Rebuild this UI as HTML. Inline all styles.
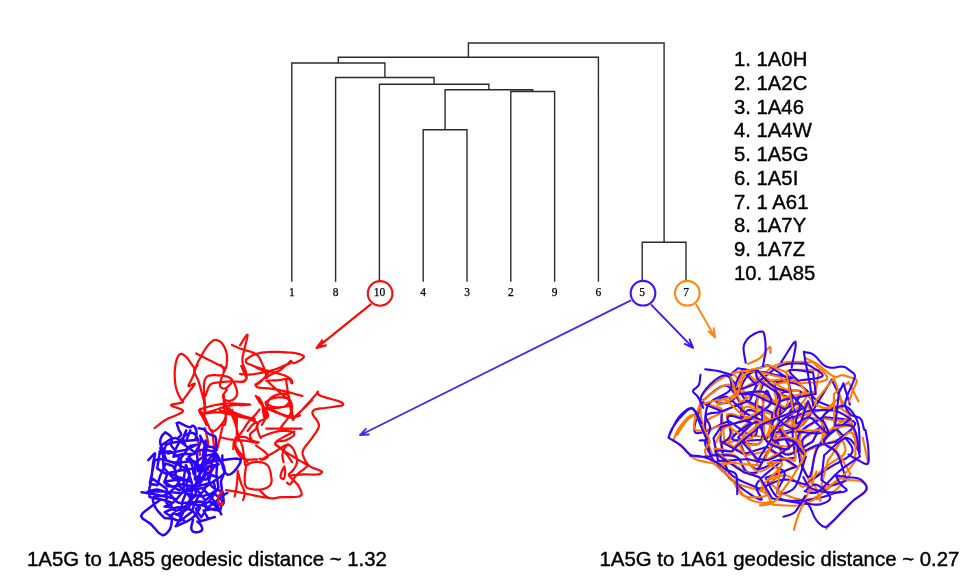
<!DOCTYPE html>
<html><head><meta charset="utf-8"><title>Protein structure dendrogram</title>
<style>
html,body{margin:0;padding:0;background:#fff;}
body{width:979px;height:584px;overflow:hidden;}
svg{display:block;}
.lf{font-family:"Liberation Serif",serif;font-size:11.5px;fill:#000;stroke:#000;stroke-width:0.25px;text-anchor:middle;}
.lg{font-family:"Liberation Sans",sans-serif;font-size:20.3px;fill:#000;stroke:#000;stroke-width:0.4px;}
.cap{font-family:"Liberation Sans",sans-serif;font-size:20.4px;fill:#000;stroke:#000;stroke-width:0.4px;}
</style></head><body>
<svg width="979" height="584" viewBox="0 0 979 584">
<rect width="979" height="584" fill="#fff"/>
<path d="M423.2 129.7V281.0M467.0 129.7V281.0M423.2 129.7H467.0M510.8 91.5V281.0M554.6 91.5V281.0M510.8 91.5H554.6M445.1 89.8V129.7M532.7 89.8V91.5M445.1 89.8H532.7M379.4 84.3V281.0M488.9 84.3V89.8M379.4 84.3H488.9M335.6 77.5V281.0M434.1 77.5V84.3M335.6 77.5H434.1M291.8 63.0V281.0M384.9 63.0V77.5M291.8 63.0H384.9M338.3 57.3V63.0M598.4 57.3V281.0M338.3 57.3H598.4M642.2 242.2V281.0M686.0 242.2V281.0M642.2 242.2H686.0M468.4 43.0V57.3M664.1 43.0V242.2M468.4 43.0H664.1" fill="none" stroke="#2b2b2b" stroke-width="1.4" stroke-linecap="square"/>
<g class="lf"><text x="291.8" y="296.2">1</text><text x="335.6" y="296.2">8</text><text x="379.4" y="296.2">10</text><text x="423.2" y="296.2">4</text><text x="467.0" y="296.2">3</text><text x="510.8" y="296.2">2</text><text x="554.6" y="296.2">9</text><text x="598.4" y="296.2">6</text><text x="642.2" y="296.2">5</text><text x="686.0" y="296.2">7</text></g>
<g fill="none" stroke-width="2.1">
<circle cx="380.1" cy="293.4" r="12.3" stroke="#ff0a0a"/>
<circle cx="643.0" cy="293.2" r="12.3" stroke="#4212ff"/>
<circle cx="687.3" cy="293.2" r="12.3" stroke="#ff8614"/>
</g>
<g fill="none" stroke-linecap="round" stroke-linejoin="round">
<path d="M370.7 304.4L316.6 347.9M322.2 340.4L316.6 347.9L325.8 345.4" stroke="#ff0a0a" stroke-width="2.2"/>
<path d="M630.4 300.6L360 435.2M365.9 428.9L360 435.2L368.9 434.5" stroke="#4a22ff" stroke-width="1.8"/>
<path d="M651.6 305.1L693.1 347.8M689.6 339.4L693.1 347.8L684.7 343.9" stroke="#4212ff" stroke-width="1.9"/>
<path d="M696.3 304.7L715.1 337.5M713.6 328.2L715.1 337.5L708.4 331.2" stroke="#ff8614" stroke-width="1.9"/>
</g>
<path d="M183.1 400.1L184.3 398.4 185.6 396.7 186.9 395.0 188.1 393.3 189.3 391.6 190.6 389.8 192.2 387.8 193.6 385.9 194.5 384.4 194.7 383.6 193.9 383.7 192.5 384.5 190.8 385.4 189.3 386.1 188.5 386.2 188.5 385.5 189.0 384.2 189.9 382.6 190.8 380.9 191.6 379.3 192.4 377.5 193.2 375.7 194.0 373.7 194.6 371.9 194.7 370.1 194.3 368.6 193.7 367.2 192.8 365.8 191.8 364.5 190.8 363.1 189.8 361.6 188.8 360.1 187.7 358.6 186.5 357.3 185.4 356.2 184.5 355.5 183.5 354.8 182.6 354.3 181.6 353.9 180.8 353.9 180.1 354.2 179.4 354.7 178.8 355.3 178.2 356.1 177.7 357.0 177.1 358.4 176.5 360.0 176.1 361.7 175.7 363.6 175.4 365.4 175.1 367.5 174.9 369.6 174.7 371.8 174.7 374.0 174.7 376.2 174.8 378.4 174.9 380.6 175.2 382.8 175.5 385.0 175.9 387.0 176.3 388.7 176.8 390.3 177.3 391.8 177.9 393.3 178.5 394.7 179.1 395.9 179.7 397.1 180.4 398.2 181.0 399.2 181.6 400.1 182.0 400.6 182.4 401.0 182.8 401.3 183.1 401.7 183.1 402.0 181.7 402.7 178.7 403.3 175.2 403.8 172.3 404.4 171.0 405.2 172.2 406.2 175.2 407.2 178.8 408.4 181.8 409.6 183.1 410.9 181.8 412.6 178.3 414.3 173.8 416.2 169.2 418.1 165.4 420.0 163.0 421.6 160.8 423.2 158.8 424.8 156.7 426.4 154.6 428.0 M196.2 353.5L198.0 354.4 199.7 355.3 201.4 356.2 203.2 357.1 205.0 358.0 207.0 359.0 209.0 360.0 211.0 361.0 213.0 362.0 215.0 363.0 216.8 363.9 218.6 364.8 220.4 365.7 222.2 366.6 224.0 367.5 M194.7 372.4L194.8 371.6 195.0 370.9 195.1 370.1 195.3 369.3 195.5 368.5 195.9 367.4 196.3 366.1 196.8 364.9 197.3 363.6 197.8 362.4 198.3 361.3 198.9 360.2 199.5 359.2 200.2 358.1 200.8 357.0 201.5 355.7 202.3 354.2 203.0 352.8 203.8 351.4 204.7 350.0 205.7 348.5 206.7 347.0 207.8 345.6 209.0 344.3 210.1 343.1 211.0 342.3 211.9 341.5 212.8 340.8 213.7 340.3 214.7 340.0 215.8 340.0 216.9 340.1 218.0 340.5 219.1 341.0 220.1 341.6 221.2 342.5 222.2 343.6 223.1 344.9 224.0 346.3 224.7 347.7 225.4 349.3 226.0 350.9 226.4 352.6 226.8 354.4 227.0 356.2 227.1 358.2 227.1 360.3 226.9 362.4 226.7 364.4 226.3 366.2 225.9 367.5 225.5 368.7 225.0 369.8 224.5 370.9 224.0 372.0 M197.7 365.0L196.9 366.0 196.0 366.9 195.1 367.9 194.5 368.9 194.1 370.1 194.3 371.9 195.0 373.8 196.1 375.9 197.3 378.2 198.2 380.4 199.1 383.2 200.0 386.1 200.8 389.1 201.6 392.1 202.3 394.8 202.8 396.8 203.3 398.6 203.8 400.4 204.1 402.2 204.4 404.0 204.5 405.8 204.5 407.7 204.5 409.6 204.4 411.4 204.4 413.3 M205.4 412.2L205.0 405.6 204.5 398.6 204.0 391.8 203.9 385.9 204.4 381.4 204.8 380.0 205.3 378.8 205.9 377.8 206.6 377.0 207.5 376.3 209.1 375.6 211.1 375.3 213.3 375.2 215.5 375.2 217.7 375.3 220.1 375.4 222.6 375.7 225.0 376.1 227.2 376.6 229.0 377.3 229.8 377.8 230.5 378.4 231.0 379.1 231.5 379.8 232.1 380.4 M205.4 395.8L206.3 393.4 207.2 390.8 208.1 388.3 209.2 386.1 210.5 384.5 211.7 383.7 213.0 383.2 214.5 382.9 216.0 382.7 217.7 382.5 220.3 382.1 223.1 381.9 226.2 381.7 229.2 381.5 232.1 381.4 234.8 381.5 237.7 381.7 240.4 382.0 242.7 381.9 244.4 381.4 245.0 380.8 245.5 380.0 245.8 379.1 246.0 378.2 246.0 377.3 245.8 376.1 245.3 374.9 244.7 373.7 244.0 372.4 243.4 371.2 243.0 370.1 242.5 369.1 242.1 368.1 241.7 367.0 241.3 366.0 M220.8 365.0L221.5 366.0 222.3 366.9 223.0 367.9 223.6 368.9 223.9 370.1 223.8 371.9 223.1 374.1 222.2 376.3 221.4 378.4 220.8 380.4 220.5 381.8 220.2 383.2 220.0 384.5 220.0 385.7 220.3 386.6 220.9 387.3 221.8 387.9 222.8 388.3 223.9 388.6 224.9 388.6 226.1 388.1 227.3 387.2 228.6 385.9 229.9 384.7 231.1 383.5 M231.1 378.3L232.0 379.7 232.8 381.1 233.7 382.6 234.5 384.0 235.2 385.5 235.8 387.1 236.4 388.8 236.9 390.5 237.2 392.2 237.2 393.7 236.9 394.9 236.4 396.0 235.7 397.1 234.9 398.1 234.1 398.9 233.2 399.5 232.2 400.1 231.1 400.5 230.1 400.8 229.0 400.9 227.9 400.8 226.8 400.5 225.6 400.1 224.6 399.5 223.9 398.9 223.5 398.4 223.2 397.8 223.0 397.2 222.9 396.5 222.9 395.8 223.3 394.7 224.1 393.5 225.0 392.2 226.1 390.9 227.0 389.6 M200.3 409.1L202.3 408.5 204.3 407.9 206.3 407.2 208.3 406.7 210.5 406.1 213.3 405.5 216.3 404.8 219.3 404.3 222.5 403.8 225.9 403.5 230.3 403.4 235.0 403.6 239.8 403.9 244.7 404.2 249.5 404.5 M204.4 413.3L206.5 412.6 208.6 412.0 210.7 411.3 212.8 410.7 215.0 410.0 217.5 409.2 220.1 408.3 222.8 407.4 225.4 406.6 228.0 406.0 230.4 405.6 232.8 405.2 235.2 405.0 237.6 404.8 240.0 404.5 M200.3 409.1L200.1 409.3 199.8 409.5 199.5 409.7 199.3 409.9 199.2 410.2 199.4 411.4 200.2 413.0 201.2 414.8 202.4 416.7 203.3 418.4 204.0 419.8 204.6 421.1 205.2 422.4 205.8 423.7 206.4 425.0 M223.9 395.8L223.9 397.8 223.8 399.9 223.8 401.9 223.8 404.0 223.9 406.1 224.2 408.6 224.7 411.1 225.3 413.7 225.7 416.2 225.9 418.4 225.8 419.8 225.6 421.2 225.4 422.5 225.1 423.7 224.9 425.0 M229.0 408.1L230.1 409.7 231.2 411.3 232.3 413.0 233.3 414.6 234.1 416.3 234.7 418.0 235.1 419.7 235.5 421.5 235.8 423.2 236.2 425.0 M225.9 409.1L230.1 410.8 234.5 412.5 238.8 414.2 242.9 415.8 246.5 417.4 248.8 418.5 250.9 419.5 252.8 420.5 254.7 421.5 256.7 422.5 M255.7 395.8L256.5 396.4 257.4 396.9 258.2 397.5 259.0 398.1 259.8 398.9 260.8 400.4 261.7 402.2 262.5 404.2 263.2 406.2 263.9 408.1 264.5 409.8 265.1 411.4 265.7 413.0 266.0 414.7 266.0 416.3 265.6 418.0 264.8 419.8 263.9 421.5 262.8 423.3 261.9 425.0 M255.7 385.5L256.9 384.5 258.2 383.6 259.4 382.6 260.6 381.6 261.9 380.4 263.5 378.8 265.1 377.0 266.7 375.0 268.4 373.1 270.0 371.2 M251.6 365.0L253.7 366.1 255.8 367.2 257.8 368.4 259.9 369.3 261.9 370.1 263.6 370.5 265.2 370.8 266.8 370.9 268.4 371.0 270.0 371.2 M240.0 345.4L241.6 342.9 243.4 339.9 245.2 337.2 246.6 335.2 247.4 334.6 247.5 335.8 247.0 338.4 246.2 341.8 245.3 345.4 244.6 348.5 244.0 351.0 243.4 353.5 242.8 355.9 242.4 358.4 242.3 360.8 242.8 363.3 243.6 365.9 244.7 368.5 245.6 370.9 246.2 373.1 246.4 374.5 246.6 375.9 246.7 377.2 246.6 378.3 246.2 379.3 245.4 380.1 244.2 380.7 242.8 381.2 241.3 381.6 240.0 382.1 M246.2 359.3L247.7 358.3 249.1 357.4 250.6 356.4 252.2 355.5 253.9 354.7 256.3 353.9 259.0 353.2 261.8 352.7 264.7 352.3 267.7 352.0 271.3 351.8 275.1 351.8 278.9 351.9 282.7 352.1 286.2 352.3 288.9 352.5 291.6 352.7 294.2 353.0 296.5 353.4 298.6 353.9 300.0 354.3 301.4 354.8 302.6 355.3 303.5 355.9 303.9 356.5 303.8 357.0 303.5 357.6 303.0 358.2 302.3 358.7 301.6 359.3 300.2 360.3 298.4 361.3 296.4 362.3 294.6 363.0 293.2 363.1 292.6 362.8 292.0 362.2 291.5 361.5 291.1 361.0 290.8 360.8 290.6 361.0 290.5 361.5 290.5 362.0 290.4 362.6 290.1 363.1 289.4 363.7 288.4 364.1 287.2 364.5 286.0 364.9 284.7 365.4 283.0 366.1 281.2 367.0 279.3 367.8 277.3 368.6 275.4 369.3 273.6 369.9 271.8 370.3 269.9 370.8 268.1 371.2 266.2 371.6 264.1 372.1 261.9 372.6 259.7 373.1 257.5 373.5 255.4 373.9 253.5 374.2 251.6 374.4 249.7 374.6 247.9 374.7 246.2 374.7 244.9 374.6 243.6 374.5 242.4 374.3 241.2 374.1 240.0 373.9 M246.2 359.3L246.1 359.9 246.0 360.6 246.0 361.2 246.0 361.8 246.2 362.4 246.9 363.1 248.0 363.7 249.4 364.3 250.8 364.8 252.3 365.4 254.3 366.2 256.4 367.0 258.6 367.8 260.9 368.6 263.1 369.3 265.2 370.0 267.4 370.6 269.5 371.2 271.7 371.8 273.9 372.4 276.4 373.1 279.0 373.8 281.6 374.5 284.1 375.3 286.2 376.2 287.5 376.9 288.8 377.7 289.9 378.4 290.9 379.3 291.6 380.1 291.9 380.7 292.1 381.3 292.2 381.9 292.3 382.6 292.4 383.2 M232.0 345.0L233.6 345.7 235.1 346.4 236.6 347.1 238.2 347.8 240.0 348.5 243.2 349.6 246.9 350.6 250.7 351.8 254.2 353.1 256.9 354.7 258.2 356.1 259.3 357.6 260.1 359.2 260.9 360.8 261.6 362.4 262.3 363.9 263.0 365.4 263.6 367.0 264.2 368.5 264.7 370.1 265.2 371.7 265.7 373.2 266.1 374.8 266.6 376.4 267.0 378.0 M255.4 384.7L255.7 385.2 255.9 385.7 256.1 386.2 256.4 386.6 256.9 387.0 258.7 387.6 261.4 387.9 264.5 388.1 267.7 388.3 270.8 388.6 273.8 389.1 276.9 389.6 280.0 390.2 283.1 390.9 286.2 391.6 289.4 392.4 292.7 393.3 295.9 394.2 299.2 395.1 302.4 396.0 M267.0 380.8L268.7 382.4 270.3 383.9 272.0 385.5 273.7 387.1 275.4 388.6 277.3 390.2 279.2 391.8 281.2 393.4 283.1 394.9 284.7 396.3 285.8 397.2 286.8 398.1 287.8 398.9 288.6 399.8 289.3 400.9 289.9 402.5 290.2 404.3 290.4 406.2 290.5 408.2 290.8 410.1 291.2 412.1 291.7 414.0 292.2 416.0 292.7 418.0 293.2 420.0 M266.2 380.8L268.7 380.7 271.2 380.5 273.6 380.4 276.1 380.3 278.5 380.1 280.8 379.8 283.3 379.4 285.6 379.0 287.7 378.9 289.3 379.3 290.0 379.9 290.5 380.6 290.9 381.5 291.2 382.4 291.6 383.2 M255.4 384.7L256.9 383.6 258.5 382.5 260.0 381.4 261.5 380.3 263.1 379.3 264.6 378.3 266.1 377.4 267.6 376.5 269.2 375.6 270.8 374.7 272.6 373.8 274.5 373.0 276.3 372.1 278.2 371.2 280.1 370.1 282.3 368.5 284.4 366.7 286.5 364.7 288.7 362.7 290.8 360.8 M266.2 405.5L267.1 403.9 267.8 402.2 268.7 400.6 269.6 399.1 270.8 397.8 272.4 396.7 274.2 395.7 276.2 395.0 278.2 394.4 280.1 394.0 281.8 393.8 283.5 393.7 285.2 393.8 286.7 394.1 287.8 394.7 288.5 395.6 289.0 396.9 289.3 398.3 289.4 399.7 289.3 400.9 289.0 401.9 288.5 402.9 287.9 403.9 287.1 404.8 286.2 405.5 285.0 406.2 283.5 406.8 281.9 407.2 280.2 407.5 278.5 407.8 276.6 408.0 274.6 408.2 272.6 408.2 270.8 408.1 269.3 407.8 268.5 407.5 267.9 407.0 267.3 406.5 266.8 406.0 266.2 405.5 M286.2 380.8L286.8 384.8 287.4 388.9 288.0 393.0 288.6 397.0 289.3 400.9 290.0 404.5 290.8 408.1 291.6 411.6 292.4 415.1 293.2 418.6 M293.9 418.6L296.1 416.3 298.2 414.0 300.3 411.7 302.5 409.4 304.7 407.0 307.4 404.1 310.3 400.9 313.1 397.8 315.5 395.1 317.0 393.2 317.3 392.7 317.4 392.3 317.6 391.9 317.7 391.7 317.8 391.6 317.9 391.8 317.9 392.4 318.0 393.2 318.2 394.0 318.6 394.7 321.7 396.3 327.0 397.9 333.0 399.5 338.4 401.0 341.7 402.4 342.3 402.9 342.7 403.4 343.1 403.8 343.2 404.3 343.2 404.7 342.3 405.4 340.3 405.8 337.8 406.2 335.0 406.6 332.4 407.0 328.7 407.5 324.4 408.0 320.1 408.4 316.4 409.1 314.0 410.1 313.4 410.6 312.9 411.2 312.6 411.8 312.4 412.4 312.4 413.2 313.1 415.1 314.7 417.4 316.7 420.0 318.3 422.7 319.0 425.2 318.5 427.7 317.3 430.2 315.7 432.8 313.8 435.3 312.1 437.8 310.2 440.4 308.1 443.1 306.0 445.7 304.2 448.2 303.1 450.3 302.8 451.3 302.6 452.1 302.6 453.0 302.6 453.8 302.8 454.8 303.4 456.8 304.4 459.0 305.6 461.4 307.2 463.7 308.9 465.6 311.5 467.3 314.9 468.6 318.2 469.8 320.9 470.9 322.0 471.9 321.9 472.4 321.5 472.9 320.9 473.3 320.1 473.8 319.3 474.1 317.0 474.5 313.8 474.6 310.2 474.5 306.5 474.4 303.1 474.4 300.2 474.6 297.3 474.8 294.5 475.0 291.6 475.3 288.8 475.5 M240.0 405.5L250.0 404.7 M256.2 396.3L257.3 397.5 258.5 398.6 259.7 399.8 260.8 401.0 261.6 402.4 262.2 404.1 262.5 405.9 262.7 407.9 262.9 409.8 263.1 411.7 263.4 413.4 263.7 415.1 264.1 416.7 264.4 418.3 264.7 420.0 M200.0 410.8L200.6 411.4 201.2 411.9 201.9 412.5 202.5 413.1 203.1 413.9 204.0 415.5 204.9 417.5 205.8 419.7 206.8 421.9 207.7 423.9 208.5 425.7 209.3 427.7 210.2 429.5 211.1 430.9 212.3 431.6 214.2 431.1 216.5 429.5 218.9 427.2 221.2 424.6 223.1 422.3 224.3 420.3 225.1 418.0 225.9 415.8 226.7 413.8 227.7 412.3 228.6 411.6 229.5 411.1 230.5 410.7 231.4 410.4 232.4 410.0 M203.1 413.9L205.6 413.5 208.1 413.1 210.6 412.8 213.0 412.5 215.4 412.3 217.5 412.3 219.4 412.4 221.4 412.5 223.4 412.8 225.4 413.1 227.7 413.6 229.9 414.2 232.2 414.9 234.6 415.6 237.0 416.2 239.8 416.8 242.7 417.3 245.6 417.9 248.4 418.5 250.8 419.2 252.2 419.8 253.5 420.4 254.7 421.0 255.8 421.7 257.0 422.3 M223.1 424.6L217.0 450.0 M237.0 416.2L236.9 420.4 236.8 424.9 236.7 429.2 236.7 433.1 237.0 436.2 237.2 437.3 237.5 438.3 237.9 439.1 238.2 439.9 238.5 440.8 M235.4 437.7L237.3 437.5 239.2 437.2 241.1 437.0 243.0 436.8 244.7 437.0 246.0 437.4 247.2 438.0 248.4 438.7 249.5 439.4 250.8 440.0 252.3 440.5 253.8 441.0 255.4 441.5 257.0 441.9 258.6 442.4 M235.4 440.8L235.5 442.7 235.5 444.6 235.6 446.5 235.8 448.3 236.2 450.0 236.8 451.4 237.5 452.8 238.3 454.0 239.2 455.2 240.1 456.2 240.9 457.0 241.7 457.7 242.6 458.3 243.6 458.9 244.7 459.3 246.7 459.7 249.2 459.7 251.8 459.6 254.4 459.4 257.0 459.3 M246.2 465.5L247.4 464.8 248.6 464.1 249.8 463.4 251.1 462.8 252.4 462.4 254.1 462.1 256.0 461.9 258.0 461.9 259.9 462.1 261.6 462.4 263.0 462.8 264.4 463.2 265.6 463.8 266.8 464.6 267.8 465.5 268.8 467.0 269.5 468.7 270.1 470.7 270.6 472.7 270.9 474.7 271.2 476.6 271.5 478.6 271.6 480.6 271.4 482.4 270.9 484.0 270.1 485.2 269.0 486.3 267.7 487.2 266.2 488.0 264.7 488.6 262.7 489.1 260.6 489.5 258.3 489.6 256.0 489.6 253.9 489.4 252.2 489.2 250.4 488.9 248.8 488.5 247.3 487.9 246.2 487.0 245.4 485.6 245.0 483.9 244.8 481.9 244.7 479.8 244.7 477.8 244.8 475.5 245.1 473.0 245.4 470.5 245.8 468.0 246.2 465.5 M237.7 470.9L238.3 473.2 238.9 475.5 239.5 477.8 240.1 480.1 240.8 482.4 241.6 484.6 242.6 486.9 243.6 489.1 244.3 491.2 244.7 493.2 244.6 494.7 244.4 496.0 243.9 497.3 243.5 498.7 243.1 500.0 M237.7 470.9L237.6 473.5 237.5 476.2 237.4 478.8 237.2 481.4 237.0 484.0 236.6 486.5 236.2 489.0 235.7 491.4 235.2 493.8 234.7 496.3 M266.3 428.7L301.5 428.7 M312.1 400.0L309.9 402.2 307.7 404.4 305.5 406.7 303.4 408.8 301.3 410.8 299.6 412.3 298.0 413.8 296.5 415.2 294.9 416.6 293.3 418.0 M288.8 400.0L289.4 401.8 289.9 403.6 290.5 405.4 291.0 407.2 291.5 409.0 291.9 410.8 292.3 412.6 292.6 414.4 293.0 416.2 293.3 418.0 M267.2 407.2L269.3 408.3 271.4 409.4 273.5 410.5 275.7 411.6 278.0 412.6 280.7 413.7 283.6 414.8 286.5 415.9 289.5 416.9 292.4 418.0 M294.2 431.5L290.7 433.3 287.0 435.3 283.5 437.1 280.3 438.9 278.0 440.4 277.2 441.0 276.5 441.5 275.9 442.0 275.4 442.5 275.3 443.1 275.6 443.9 276.3 444.8 277.3 445.7 278.5 446.6 279.8 447.6 282.4 449.6 285.6 451.8 289.1 454.1 292.7 456.3 296.0 458.4 298.6 460.0 301.1 461.4 303.6 462.8 306.0 464.2 308.5 465.6 M261.8 459.3L264.3 457.9 266.8 456.4 269.4 455.0 271.9 453.5 274.4 452.1 277.0 450.5 279.7 448.6 282.4 446.8 284.9 445.5 287.0 444.9 288.0 444.9 289.0 445.1 289.9 445.5 290.7 446.0 291.5 446.7 292.6 448.0 293.6 449.8 294.6 451.8 295.4 453.9 296.0 455.7 296.4 457.0 296.7 458.3 297.0 459.5 297.1 460.7 297.0 462.0 296.7 463.4 296.2 464.9 295.6 466.3 294.8 467.7 294.0 469.0 293.1 470.1 292.1 471.1 291.1 472.1 290.0 473.0 289.0 474.0 M284.3 466.5L284.5 467.6 284.8 468.6 285.0 469.7 285.2 470.8 285.2 471.9 285.1 473.5 284.8 475.3 284.5 477.0 284.0 478.4 283.4 479.1 282.9 479.1 282.3 478.9 281.6 478.4 281.1 477.9 280.7 477.3 280.5 476.4 280.6 475.4 280.9 474.2 281.2 473.0 281.6 471.9 282.0 470.8 282.6 469.7 283.1 468.6 283.7 467.6 284.3 466.5 M287.0 482.7L287.5 483.1 288.1 483.6 288.6 484.1 289.1 484.4 289.7 484.5 290.8 483.7 292.0 482.0 293.2 479.7 294.6 477.4 296.0 475.5 297.7 473.9 299.6 472.4 301.5 470.9 303.3 469.6 304.9 468.3 305.7 467.5 306.5 466.8 307.1 466.1 307.8 465.4 308.5 464.7 M260.0 490.8L261.8 492.4 263.5 494.1 265.2 495.7 267.0 497.1 269.0 498.0 271.3 498.4 273.7 498.3 276.2 497.9 278.8 497.4 281.6 497.1 285.7 497.0 290.5 497.1 295.2 497.0 299.1 496.5 301.3 495.3 301.7 493.9 301.4 492.1 300.6 490.1 299.7 488.1 298.7 486.3 297.7 484.7 296.4 483.2 295.0 481.7 293.6 480.3 292.4 479.1 291.6 478.3 290.9 477.6 290.2 476.9 289.5 476.2 288.8 475.5 M226.0 490.0L229.4 490.6 232.8 491.2 236.1 491.7 239.5 492.4 243.0 493.0 246.9 493.8 250.9 494.7 254.9 495.6 258.7 496.4 262.0 497.0 263.8 497.3 265.4 497.5 267.0 497.7 268.5 497.8 270.0 498.0 M223.6 395.0L223.8 396.5 224.0 397.9 224.2 399.4 224.5 400.8 224.8 402.2 225.2 403.4 225.6 404.6 226.1 405.8 226.6 407.0 227.2 408.2 228.0 409.6 229.0 411.0 230.1 412.4 231.1 413.9 232.0 415.4 232.8 417.2 233.6 419.1 234.3 421.1 235.0 423.0 235.6 425.0 236.2 426.9 236.7 428.9 237.2 430.9 237.6 432.8 238.0 434.6 238.3 435.9 238.5 437.1 238.7 438.3 239.0 439.4 239.2 440.6 M220.0 410.6L222.4 411.1 224.7 411.5 227.0 411.9 229.5 412.4 232.0 413.0 235.6 413.9 239.5 414.9 243.5 416.0 247.1 417.0 250.0 417.8 251.2 418.1 252.1 418.3 253.0 418.6 253.9 418.8 254.8 419.0 M259.6 409.4L258.7 410.6 257.7 411.8 256.8 413.0 255.8 414.2 254.8 415.4 253.6 416.6 252.4 417.8 251.2 418.9 249.9 420.1 248.8 421.4 247.8 422.8 246.8 424.2 245.9 425.6 245.0 427.1 244.0 428.6 242.8 430.3 241.6 432.1 240.4 433.9 239.1 435.6 238.0 437.0 237.2 437.8 236.4 438.5 235.6 439.1 235.0 439.7 234.4 440.6 233.9 442.0 233.6 443.7 233.5 445.4 233.4 447.3 233.2 449.0 M256.0 396.2L256.7 397.4 257.4 398.6 258.1 399.8 258.8 401.0 259.6 402.2 260.7 403.6 262.0 405.0 263.4 406.4 264.6 407.9 265.6 409.4 266.4 410.9 267.2 412.5 267.8 414.0 268.1 415.4 268.0 416.6 267.6 417.3 266.9 417.8 266.1 418.2 265.2 418.6 264.4 419.0 263.5 419.5 262.4 419.9 261.4 420.3 260.4 420.8 259.6 421.4 258.9 422.2 258.3 423.1 257.8 424.0 257.4 425.1 257.2 426.2 257.3 428.0 257.7 430.1 258.3 432.3 259.0 434.2 259.6 435.8 259.8 436.4 260.1 436.9 260.3 437.3 260.6 437.7 260.8 438.2 M265.6 402.2L266.8 401.4 267.9 400.6 269.0 399.9 270.2 399.2 271.6 398.6 273.6 398.1 275.8 397.6 278.1 397.4 280.3 397.3 282.4 397.4 284.0 397.6 285.6 397.9 287.1 398.3 288.5 399.0 289.6 399.8 290.5 400.9 291.1 402.3 291.6 403.8 291.9 405.4 292.0 407.0 291.9 408.6 291.6 410.3 291.0 412.1 290.4 413.8 289.6 415.4 288.6 417.2 287.4 418.9 286.1 420.6 284.8 422.3 283.6 423.8 282.8 424.8 282.1 425.8 281.4 426.7 280.7 427.7 280.0 428.6 M265.6 403.4L267.3 404.2 268.9 405.0 270.6 405.8 272.3 406.5 274.0 407.0 275.7 407.2 277.4 407.3 279.1 407.3 280.8 407.1 282.4 407.0 283.9 406.8 285.3 406.6 286.7 406.3 288.2 406.1 289.6 405.8 M265.6 408.2L268.0 409.2 270.3 410.1 272.7 411.1 275.1 412.1 277.6 413.0 280.5 414.1 283.5 415.4 286.5 416.6 289.4 417.4 292.0 417.8 293.7 417.6 295.4 417.2 296.9 416.6 298.4 416.0 300.0 415.4 M260.8 437.0L262.7 436.3 264.6 435.5 266.5 434.8 268.5 434.0 270.4 433.4 272.3 432.8 274.1 432.2 276.0 431.7 278.0 431.3 280.0 431.0 282.7 430.9 285.8 430.9 288.9 431.1 291.5 431.5 293.2 432.2 293.7 432.6 294.1 433.1 294.3 433.6 294.5 434.1 294.4 434.6 293.5 435.8 291.7 437.1 289.4 438.5 287.0 439.7 284.8 440.6 283.0 441.0 281.1 441.2 279.2 441.2 277.6 441.4 276.4 441.8 275.9 442.2 275.6 442.7 275.3 443.2 275.2 443.7 275.2 444.2 275.6 444.9 276.5 445.6 277.7 446.2 278.9 447.0 280.0 447.8 281.4 449.0 282.9 450.4 284.4 451.9 285.9 453.5 287.2 455.0 288.3 456.4 289.2 457.8 290.2 459.3 291.1 460.8 292.0 462.2 M288.1 444.2L287.4 444.9 286.7 445.5 286.0 446.2 285.4 447.0 284.8 447.8 284.1 449.0 283.5 450.5 283.0 452.0 282.6 453.5 282.4 455.0 282.4 456.4 282.6 457.9 283.0 459.3 283.3 460.8 283.6 462.2 M220.0 437.0L221.9 437.5 223.7 438.0 225.6 438.5 227.5 439.0 229.6 439.4 232.3 439.7 235.2 440.0 238.1 440.1 241.1 440.3 244.0 440.6 246.7 441.0 249.3 441.5 252.0 442.0 254.6 442.5 257.2 443.0 M234.4 443.0L235.1 444.4 235.7 445.9 236.4 447.4 237.2 448.8 238.0 450.2 239.1 451.7 240.3 453.2 241.6 454.6 242.9 456.1 244.0 457.4 244.8 458.4 245.5 459.4 246.2 460.3 246.9 461.3 247.6 462.2 M240.4 440.6L240.9 442.0 241.4 443.4 241.9 444.8 242.4 446.3 242.8 447.8 243.1 449.6 243.4 451.6 243.6 453.6 243.8 455.5 244.0 457.4 244.2 459.0 244.5 460.5 244.7 462.0 245.0 463.5 245.2 465.0 M247.6 431.0L248.8 429.5 250.0 427.8 251.2 426.2 252.4 424.8 253.6 423.8 254.4 423.3 255.2 422.9 256.1 422.6 256.7 422.5 257.2 422.6 257.4 423.3 257.4 424.4 257.0 425.9 256.6 427.3 256.0 428.6 255.0 429.9 253.5 431.0 252.0 432.2 250.7 433.4 250.0 434.6 250.0 435.8 250.3 437.1 250.9 438.4 251.6 439.6 252.4 440.6 253.2 441.3 254.1 441.8 255.2 442.2 256.2 442.6 257.2 443.0 M256.0 445.4L258.0 446.9 260.2 448.4 262.3 449.8 264.1 451.3 265.6 452.6 266.3 453.4 267.0 454.1 267.6 454.8 268.0 455.5 268.0 456.2 267.4 457.1 266.2 458.0 264.7 458.9 263.2 459.5 262.0 459.8 261.5 459.7 261.0 459.5 260.5 459.2 260.1 458.9 259.6 458.6" fill="none" stroke-linejoin="round" stroke-linecap="round" stroke="#ff0808" stroke-width="2.2"/>
<path d="M205.0 428.0L205.7 431.4 206.6 434.9 207.4 438.3 207.9 441.7 208.0 445.0 207.3 448.1 205.9 451.2 204.4 454.2 203.3 457.2 203.0 460.0 203.7 462.5 205.0 464.9 206.7 467.3 208.4 469.6 210.0 472.0 M212.0 430.0L212.5 434.0 213.1 438.1 213.6 442.1 213.9 446.1 214.0 450.0 213.7 453.7 213.1 457.3 212.4 460.8 211.7 464.4 211.0 468.0 M198.0 440.0L200.0 455.0" fill="none" stroke-linejoin="round" stroke-linecap="round" stroke="#ff0808" stroke-width="2.2"/>
<path d="M160.7 445.6L165.1 442.7 170.4 439.3 175.3 437.9 178.1 439.1 180.7 441.5 183.5 444.1 188.0 447.4 193.0 450.9 197.1 453.8 197.4 459.2 197.8 465.7 198.1 471.1 200.5 466.8 203.2 461.5 205.5 457.2 205.7 451.1 205.9 443.9 205.7 440.4 204.9 443.6 203.7 450.5 202.8 456.2 206.3 459.5 210.7 463.3 214.2 466.6 211.8 470.6 208.9 475.5 206.5 479.6 202.9 479.5 198.5 479.5 194.9 479.5 195.2 473.8 195.5 467.0 194.1 462.2 189.9 461.2 184.1 462.0 178.6 462.4 174.0 462.2 169.5 461.7 166.3 460.0 164.6 455.6 164.3 449.8 165.8 445.2 170.3 442.9 176.6 441.9 181.9 441.2 187.0 440.8 193.2 440.3 198.3 439.9 197.0 437.5 195.3 434.7 193.3 432.9 190.7 432.8 187.8 433.8 185.1 435.5 181.5 439.3 178.1 444.3 175.6 449.0 174.6 451.8 174.0 454.6 173.5 456.8 176.4 455.9 179.8 454.8 182.7 454.0 186.3 454.0 190.7 453.9 194.4 453.9 196.7 450.0 199.4 445.2 201.0 441.0 201.0 439.0 200.6 437.2 200.2 435.8 201.7 438.9 203.5 442.6 205.0 445.7 207.8 446.3 211.1 447.0 213.8 447.6 214.9 452.4 216.2 458.1 217.3 462.9 217.0 466.2 216.7 470.2 216.4 473.5 217.0 477.9 217.8 483.2 218.4 487.7 215.5 492.0 212.0 497.2 209.1 501.5 212.0 503.5 215.5 506.0 218.4 508.1 213.8 508.8 208.2 509.7 203.6 510.5 205.0 513.1 206.8 516.2 208.2 518.8 210.2 518.2 212.7 517.6 214.8 517.0 210.3 518.4 204.9 520.0 200.5 521.3 198.0 517.9 194.9 513.7 192.3 510.3 188.1 509.1 182.9 507.8 177.9 507.3 173.1 508.5 168.5 510.5 164.7 512.2 167.6 514.2 170.9 516.5 172.4 518.2 170.6 518.5 167.3 518.3 164.6 518.0 161.6 515.1 158.1 511.4 155.4 507.6 153.8 504.0 152.9 500.2 153.3 497.3 156.2 496.2 160.6 496.0 164.9 495.2 169.1 492.6 173.1 489.2 176.4 485.6 178.4 482.8 179.8 479.9 181.0 477.5 178.7 477.8 175.8 478.1 173.4 478.4 170.3 475.1 166.6 471.0 163.5 467.7 163.3 463.6 163.2 458.7 163.0 454.6 162.1 452.5 161.1 450.1 160.2 448.1 162.6 449.8 165.5 451.8 168.0 453.5 173.3 452.4 179.8 451.0 185.2 449.9 188.9 448.3 193.3 446.3 197.0 444.7 194.9 445.0 192.4 445.4 190.4 445.7 187.5 449.6 183.9 454.3 181.0 458.1 180.9 461.5 180.7 465.7 180.6 469.1 179.3 470.0 177.7 471.0 176.4 471.9 175.3 470.1 173.9 467.8 172.8 466.0 170.6 465.2 167.9 464.3 165.7 463.5 163.9 467.6 161.6 472.6 159.8 476.8 159.0 479.4 158.2 482.6 157.4 485.2 155.2 484.7 152.6 484.2 150.5 484.6 149.4 487.9 149.4 492.9 149.5 497.0 153.5 497.9 158.5 498.9 162.6 499.7 165.1 500.5 168.2 501.5 170.7 502.3 171.1 503.8 171.4 505.7 171.8 507.3 169.5 507.1 166.7 506.8 164.5 506.6 166.8 505.7 169.8 504.6 172.7 502.9 176.7 499.0 180.8 494.1 184.1 490.1 188.8 488.7 194.7 487.1 200.4 485.6 205.2 484.3 209.8 483.0 213.7 482.0 214.4 484.9 215.1 488.3 214.7 491.3 211.3 493.6 206.2 495.1 201.9 496.4 196.9 495.5 190.8 494.5 185.7 493.6 184.7 496.0 183.4 499.0 182.4 501.4 181.9 506.0 181.3 511.6 180.8 516.2 178.5 515.3 175.7 514.0 173.5 513.1 172.2 514.2 170.6 515.5 170.0 516.8 172.2 518.4 176.3 520.0 179.7 521.2 183.3 518.4 187.7 515.0 191.3 512.2 193.2 507.5 195.6 501.9 198.1 496.8 201.0 493.4 204.1 490.3 205.1 488.3 201.3 488.2 194.3 489.8 188.4 491.2 187.7 489.1 186.8 486.5 186.1 484.4 187.3 481.1 188.7 477.1 189.9 473.8 188.7 471.1 187.2 467.8 185.9 465.0 185.2 469.8 184.2 475.5 183.4 480.3 183.6 482.6 183.8 485.4 183.9 487.7 182.6 488.5 180.9 489.5 179.6 490.3 174.8 487.8 169.1 484.9 164.3 482.4 165.2 479.9 166.2 477.0 167.1 474.5 164.0 472.6 160.2 470.4 157.2 468.5 157.7 465.2 158.4 461.1 158.9 457.8 159.2 455.7 159.5 453.2 159.7 451.2 163.2 451.3 167.4 451.4 170.9 451.5 173.6 453.3 176.9 455.6 179.6 457.4 177.9 460.8 175.9 465.0 174.8 469.3 175.6 474.4 177.6 479.8 179.2 484.1 184.2 484.9 190.2 485.7 195.3 485.3 198.2 483.1 200.5 480.0 202.3 477.5 204.4 473.8 206.9 469.4 209.0 465.7 207.0 467.3 204.6 469.3 202.3 471.4 200.4 473.6 198.5 476.0 197.1 477.9 196.0 476.6 194.6 475.0 193.5 473.6 193.1 470.5 192.5 466.8 191.4 463.5 189.7 461.5 187.6 459.8 186.7 458.9 190.0 460.3 196.4 463.8 201.8 466.8 205.9 464.2 210.8 461.1 214.8 458.5 214.8 456.5 214.9 453.9 214.9 451.8 211.1 451.0 206.5 450.0 201.9 449.8 197.1 451.6 192.4 454.3 188.5 456.7 190.4 458.6 192.7 460.9 195.1 462.0 197.1 461.4 199.2 459.7 201.2 458.2 202.7 457.3 204.2 456.5 205.9 455.8 209.3 454.9 213.3 454.2 216.5 453.7 217.8 455.9 219.3 458.6 220.7 461.5 222.2 464.8 223.6 468.3 224.8 471.2 223.6 474.4 222.1 478.2 220.9 481.3 221.4 485.3 222.0 490.1 222.5 494.0 220.2 496.6 217.5 499.8 215.3 502.4 212.7 504.0 209.6 506.0 207.1 507.7 206.2 505.9 205.0 503.8 203.4 502.1 199.3 501.6 194.2 502.2 190.0 502.7 185.8 505.8 180.7 509.4 175.9 510.9 172.4 509.1 169.1 505.7 166.5 502.9 166.5 498.6 166.6 493.4 166.7 489.0 162.4 485.8 157.1 482.0 152.8 478.8 151.9 480.1 150.8 481.7 149.8 483.0 150.2 481.4 150.6 479.5 151.0 477.9 152.1 472.5 153.5 466.0 154.6 460.7 156.0 460.0 157.7 459.3 159.8 458.9 164.7 459.7 170.5 461.7 176.0 463.9 179.9 465.5 183.5 467.3 186.5 469.7 188.9 473.9 190.6 478.8 191.9 482.9 191.8 487.1 191.7 492.0 191.6 496.2 191.5 498.7 191.5 501.8 191.4 504.3 196.5 504.7 202.6 505.3 206.3 507.0 205.8 510.1 203.4 513.9 201.4 517.1 199.3 514.6 196.8 511.6 195.9 508.8 199.0 506.0 204.6 503.6 209.3 501.6 213.7 503.1 219.0 504.8 222.8 504.6 223.7 501.3 223.2 496.4 222.7 492.2 219.5 490.7 215.7 488.8 212.6 487.2 211.4 485.7 210.0 483.9 208.8 482.3 209.7 478.1 210.7 473.0 211.6 468.8 213.8 467.3 216.4 465.6 218.6 464.1 213.6 465.5 207.6 467.3 202.5 470.1 199.3 474.8 197.0 480.6 195.2 485.4 195.5 488.5 195.8 492.3 196.1 495.3 193.5 497.6 190.4 500.3 187.9 502.5 184.9 502.8 181.3 503.2 178.0 502.6 175.3 500.6 172.9 497.6 171.0 495.2 167.2 493.2 162.7 490.9 158.2 489.6 154.4 489.8 150.7 490.7 147.7 491.5 152.4 491.5 158.1 491.5 164.0 491.6 170.1 492.1 176.4 492.7 181.5 493.2 183.2 492.3 185.2 491.2 186.9 490.2 189.2 489.1 192.0 487.6 194.3 486.5 197.8 490.8 201.9 496.1 205.3 500.5 207.9 498.1 211.0 495.1 213.6 492.7 216.4 495.3 219.7 498.4 222.5 500.9 221.7 504.0 220.9 507.8 220.1 510.9 218.3 507.7 216.0 503.8 213.3 500.0 209.9 495.9 206.0 492.0 202.8 488.7 207.5 485.6 213.0 481.8 217.6 478.6 220.0 476.9 222.8 474.8 225.2 473.1 224.6 470.0 223.9 466.3 222.4 463.1 219.1 460.2 214.9 457.9 211.4 456.0 208.1 460.4 204.2 465.6 200.9 469.9 205.9 472.2 211.9 474.9 216.9 477.1 213.6 476.1 209.6 474.8 206.3 473.7 204.3 477.0 201.8 480.9 199.7 484.1 199.7 479.0 199.7 472.7 199.7 467.6 194.2 468.4 187.5 469.4 181.9 470.2 177.7 471.0 172.6 472.1 168.4 472.9 171.5 474.2 175.2 475.7 179.0 477.3 183.2 478.9 187.5 480.5 191.1 481.8 187.9 481.1 184.0 480.3 179.9 479.8 174.6 480.1 168.9 480.9 164.3 481.5 165.2 483.0 166.3 484.7 167.2 486.1 169.0 486.3 171.2 486.5 173.0 486.6 174.6 486.1 176.5 485.6 178.6 485.7 182.4 488.6 186.5 493.2 189.9 497.1 190.0 500.2 190.0 504.0 189.1 507.3 185.9 510.1 181.4 512.4 177.7 514.2 179.7 516.2 182.0 518.6 183.9 520.5 M176.5 423.1L177.4 422.9 178.2 422.6 179.1 422.6 180.4 423.1 181.7 423.9 183.2 424.7 185.6 425.8 188.3 426.9 190.4 427.2 191.2 426.8 191.8 426.1 192.5 425.7 193.4 425.9 194.2 426.4 195.0 427.2 195.8 428.9 196.4 431.2 196.6 433.4 196.4 435.1 196.0 436.8 195.5 438.5 M177.0 424.2L177.7 426.3 178.4 428.4 179.1 430.3 180.0 431.8 180.9 433.1 181.2 434.4 180.5 435.6 179.3 436.8 178.0 438.0 M186.3 430.3L185.0 433.1 183.8 435.9 183.2 438.5 183.5 440.4 184.3 442.2 185.0 444.0 M190.4 430.3L186.3 440.6 M165.2 432.4L163.9 433.7 162.6 435.0 161.6 436.5 160.8 438.4 160.2 440.6 160.1 442.7 160.7 444.8 161.7 446.9 162.7 448.8 163.4 450.4 164.1 451.8 164.2 452.9 163.6 453.3 162.5 453.4 161.5 453.5 M165.2 432.4L166.9 433.4 168.5 434.4 169.9 435.5 170.8 436.4 171.5 437.4 171.9 438.5 171.7 440.4 171.0 442.6 170.9 444.7 171.9 446.5 173.4 448.3 175.0 450.0 M148.3 460.1L150.9 457.3 153.4 454.5 155.0 453.4 155.0 455.0 154.2 458.1 153.4 461.2 153.0 463.9 152.7 466.6 152.4 469.4 152.1 472.3 151.8 475.2 151.4 478.0 151.0 480.7 150.5 483.3 150.0 486.0 M198.6 428.3L200.4 428.6 202.3 428.8 203.8 429.3 204.5 429.9 205.1 430.6 205.8 431.4 207.0 432.4 208.4 433.5 209.9 434.4 211.7 435.1 213.7 435.6 215.1 436.5 215.7 437.7 215.9 439.0 216.1 440.6 216.3 443.1 216.3 446.0 216.1 448.8 215.6 451.2 214.8 453.6 214.0 456.0 M205.0 462.0L209.4 461.6 213.7 461.2 218.5 460.8 226.8 459.6 235.7 458.4 240.8 459.3 240.2 462.9 237.2 467.7 233.9 471.6 231.9 473.3 229.7 474.5 227.7 474.7 225.9 473.5 224.3 471.2 223.1 468.5 222.4 464.6 222.4 460.0 222.3 455.5 M141.6 492.2L145.4 492.8 149.2 493.4 153.0 494.0 157.0 494.7 161.0 495.6 165.0 496.4 168.7 497.2 172.4 498.1 176.0 499.0 M160.0 500.0L156.9 502.3 153.7 504.6 150.6 507.0 146.6 509.9 142.7 513.1 141.0 516.1 142.8 518.7 146.7 521.2 150.6 523.9 154.7 528.3 158.8 533.0 162.6 535.3 164.8 534.7 166.9 533.0 168.6 531.1 169.6 529.7 170.4 528.1 171.0 526.3 171.6 522.9 171.8 519.0 172.0 515.0 M197.3 521.5L198.6 522.7 199.9 523.8 200.9 525.1 201.7 526.7 202.2 528.4 202.1 529.9 201.0 531.0 199.1 531.9 197.3 532.3 195.6 532.3 193.8 531.9 192.5 531.1 191.8 530.1 191.4 528.9 191.3 527.5 191.6 525.2 192.3 522.6 193.0 520.0 M175.7 526.3L180.3 524.3 184.9 522.4 188.9 520.3 191.2 518.8 193.1 517.3 194.9 515.5 196.7 513.2 198.4 510.6 200.0 508.0 M175.7 526.3L176.9 524.4 178.0 522.5 179.3 520.3 181.5 516.0 184.0 511.0 186.5 506.0 M221.3 514.3L220.6 513.0 219.9 511.7 218.9 510.7 217.2 510.1 215.1 509.9 212.9 509.5 210.3 508.5 207.7 507.3 205.0 506.0 M227.3 492.8L225.5 493.8 223.8 494.8 222.0 496.0 220.0 497.8 218.0 499.9 216.0 502.0" fill="none" stroke-linejoin="round" stroke-linecap="round" stroke="#2c02ff" stroke-width="2.5"/>
<path d="M222 491.5L218.5 496.5L217.8 501L220.2 504.5L223.8 503.2" fill="none" stroke-linejoin="round" stroke-linecap="round" stroke="#ff0808" stroke-width="2.4"/>
<path d="M837.6 481.6L834.1 484.0 830.6 486.7 827.1 489.4 823.7 492.1 820.2 494.6 816.7 496.7 813.2 498.4 809.6 499.4 806.3 499.7 802.9 499.6 799.5 499.2 796.0 498.4 792.6 497.4 789.3 496.2 786.2 495.0 783.4 493.6 781.0 492.3 778.8 490.7 776.6 488.9 774.6 487.1 772.7 485.2 770.9 483.5 769.3 481.9 767.8 480.5 770.5 479.1 773.8 477.3 777.4 475.3 781.2 473.3 785.0 471.2 788.7 469.2 791.9 467.4 794.6 466.0 792.3 464.4 789.4 462.6 786.2 460.6 782.9 458.5 779.5 456.3 776.4 454.3 773.5 452.5 771.1 451.0 768.6 451.4 765.6 451.9 762.2 452.4 758.7 453.0 755.1 453.6 751.7 454.1 748.7 454.6 746.2 455.0 744.0 453.6 741.3 451.9 738.3 450.0 735.2 447.9 732.1 445.9 729.1 444.0 726.5 442.3 724.3 440.9 724.0 437.6 723.6 433.7 723.3 429.3 722.8 424.7 722.4 420.1 722.1 415.7 721.7 411.8 721.4 408.5 719.1 407.7 716.2 406.7 712.8 405.8 709.4 404.7 706.2 403.5 703.4 402.2 701.5 400.8 700.6 399.2 701.5 396.4 704.2 392.6 708.4 388.3 713.4 384.0 718.9 380.0 724.3 376.8 729.1 374.8 732.9 374.5 735.5 375.9 738.0 378.8 740.2 382.6 742.3 387.1 744.1 391.9 745.8 396.5 747.4 400.5 748.9 403.7 751.2 404.8 754.1 406.2 757.2 407.8 760.5 409.4 763.8 411.0 766.9 412.5 769.7 413.9 772.0 415.0 771.5 417.2 771.1 420.0 770.6 423.1 770.1 426.3 769.4 429.4 768.5 432.2 767.4 434.5 766.0 436.1 764.7 436.7 763.2 436.9 761.5 436.8 759.7 436.5 757.8 436.1 755.8 435.8 753.8 435.5 751.8 435.6 748.9 436.2 745.5 437.2 741.8 438.4 738.1 439.7 734.7 440.9 731.8 441.7 729.8 442.1 728.7 441.8 729.1 440.5 730.9 438.3 733.7 435.4 737.2 432.2 741.1 428.8 744.8 425.5 748.1 422.6 750.5 420.3 748.1 419.6 745.0 418.5 741.5 417.2 737.9 415.9 734.4 414.8 731.3 414.1 728.8 414.0 727.2 414.6 726.8 416.1 727.2 418.6 728.3 421.6 729.7 424.9 731.1 428.3 732.3 431.5 732.9 434.4 732.6 436.5 731.7 437.7 730.4 438.6 728.8 439.4 727.0 440.1 725.1 440.6 723.3 441.1 721.7 441.5 720.5 442.0 721.1 445.6 721.7 450.0 722.3 454.8 723.0 459.9 723.9 465.0 725.1 469.8 726.8 474.1 729.1 477.7" fill="none" stroke-linejoin="round" stroke-linecap="round" stroke="#ff7a06" stroke-width="2.1"/>
<path d="M840.2 491.4L836.7 492.5 833.3 493.6 829.9 494.8 826.4 496.0 823.0 497.1 819.5 498.0 815.9 498.8 812.3 499.4 808.1 499.9 803.6 500.3 799.0 500.6 794.4 500.8 789.8 500.6 785.6 500.2 781.8 499.2 778.5 497.8 776.1 496.0 774.1 493.7 772.3 491.0 770.7 488.1 769.2 485.2 767.9 482.4 766.7 479.9 765.5 477.8 768.7 476.7 772.5 475.3 776.8 473.8 781.2 472.2 785.7 470.6 789.9 469.1 793.8 467.7 796.9 466.6 793.9 464.6 790.3 462.2 786.2 459.5 781.9 456.7 777.7 454.0 773.6 451.3 770.0 448.9 767.0 446.9 764.6 447.6 761.8 448.5 758.6 449.5 755.3 450.5 752.0 451.5 748.9 452.5 746.0 453.3 743.7 454.1 741.3 452.8 738.5 451.2 735.3 449.5 732.0 447.7 728.7 445.9 725.6 444.2 722.8 442.6 720.4 441.3 720.5 438.3 720.7 434.7 720.9 430.6 721.1 426.3 721.3 422.1 721.4 418.0 721.6 414.4 721.7 411.3 719.4 410.2 716.4 409.0 713.1 407.8 709.6 406.4 706.3 404.8 703.5 403.2 701.5 401.4 700.6 399.5 701.1 396.7 703.0 393.1 706.0 389.0 709.7 384.9 713.9 381.1 718.0 378.0 721.9 375.9 725.2 375.2 728.0 376.2 730.8 378.5 733.6 381.7 736.3 385.6 738.9 389.8 741.3 393.8 743.5 397.4 745.5 400.1 748.2 401.4 751.5 403.0 755.1 404.7 758.9 406.5 762.7 408.3 766.4 410.0 769.7 411.5 772.4 412.8 772.3 415.2 772.3 418.1 772.4 421.3 772.5 424.7 772.3 428.0 771.9 431.1 771.2 433.8 769.9 435.9 768.2 437.3 766.1 438.4 763.6 439.1 760.8 439.7 758.0 440.0 755.1 440.3 752.3 440.4 749.7 440.5 747.3 440.7 744.5 440.7 741.7 440.7 739.0 440.6 736.5 440.4 734.4 440.0 732.9 439.5 732.2 438.7 732.6 437.3 734.1 435.5 736.6 433.4 739.6 431.1 742.9 428.7 746.1 426.4 749.0 424.4 751.1 422.8 748.7 421.9 745.7 420.7 742.4 419.3 738.9 417.9 735.5 416.7 732.5 415.9 730.0 415.7 728.4 416.2 727.7 417.5 727.7 419.5 728.2 422.0 729.0 424.8 729.8 427.6 730.4 430.5 730.7 433.0 730.4 435.1 729.7 436.6 728.7 437.9 727.5 439.2 726.2 440.4 724.8 441.5 723.5 442.5 722.4 443.4 721.4 444.3 722.1 447.1 722.6 450.5 723.2 454.3 723.9 458.2 724.7 462.2 725.9 466.1 727.4 469.6 729.3 472.7" fill="none" stroke-linejoin="round" stroke-linecap="round" stroke="#3204ff" stroke-width="2.1"/>
<path d="M729.1 477.7L732.1 480.4 735.8 482.7 740.1 484.6 744.6 486.2 749.2 487.5 753.6 488.8 757.5 489.9 760.7 491.1 763.0 489.3 765.6 487.0 768.5 484.4 771.6 481.7 774.8 479.2 778.0 477.1 781.1 475.6 784.0 475.0 786.5 475.4 789.0 476.5 791.6 478.1 794.2 480.0 796.6 482.1 798.9 484.1 800.9 485.8 802.8 487.2 805.3 485.0 808.3 482.4 811.6 479.5 815.1 476.4 818.6 473.3 822.1 470.2 825.5 467.4 828.6 464.8 831.0 463.0 833.6 461.4 836.2 459.8 838.7 458.4 841.0 456.9 843.0 455.3 844.4 453.5 845.3 451.4 845.4 448.7 844.7 445.6 843.3 442.2 841.5 438.7 839.5 435.2 837.5 431.9 835.7 428.9 834.5 426.4 832.6 428.5 830.4 431.0 827.9 433.6 825.3 436.4 822.7 439.4 820.3 442.5 818.1 445.7 816.3 449.0 814.9 453.0 813.9 457.8 813.2 463.0 812.6 468.2 812.1 473.0 811.6 477.0 810.9 479.7 810.0 480.8 809.2 480.4 808.3 479.2 807.4 477.4 806.5 475.2 805.6 472.9 804.7 470.6 803.9 468.6 803.2 467.0 802.8 463.7 802.0 459.7 801.1 455.2 800.3 450.5 799.6 445.8 799.4 441.3 799.7 437.2 800.8 433.7 802.5 431.1 805.0 428.7 807.9 426.6 811.2 424.6 814.5 422.9 817.7 421.3 820.5 419.8 822.8 418.4 826.2 419.0 830.6 419.7 835.5 420.3 840.6 421.0 845.5 421.9 849.6 422.9 852.5 424.1 853.9 425.6 853.7 427.0 852.5 428.6 850.7 430.4 848.5 432.3 846.1 434.1 843.7 435.9 841.6 437.5 840.0 438.9 837.0 439.9 833.4 441.2 829.3 442.6 825.1 444.1 820.9 445.5 816.8 447.0 813.2 448.2 810.2 449.3 809.6 449.7 808.9 450.2 808.0 450.7 807.2 451.3 806.3 451.9 805.5 452.5 804.7 453.0 804.1 453.4 803.5 452.5 802.7 451.4 801.8 450.3 800.9 449.1 800.1 447.8 799.5 446.5 799.1 445.3 799.2 444.0 800.2 442.0 802.4 439.8 805.4 437.6 808.8 435.4 812.4 433.2 816.0 431.2 819.1 429.3 821.5 427.7 820.5 429.2 819.3 430.9 818.0 432.8 816.7 434.8 815.3 436.8 814.0 438.7 812.8 440.5 811.8 441.9 809.1 443.3 805.9 445.2 802.4 447.4 798.6 449.6 794.8 451.6 791.2 453.1 787.9 453.9 785.0 453.8 782.9 452.7 780.9 450.8 779.1 448.3 777.5 445.5 776.0 442.5 774.6 439.7 773.3 437.2 772.1 435.2" fill="none" stroke-linejoin="round" stroke-linecap="round" stroke="#ff7a06" stroke-width="2.1"/>
<path d="M729.3 472.7L732.1 475.5 735.7 477.9 739.7 480.2 744.1 482.2 748.4 484.0 752.6 485.7 756.3 487.2 759.4 488.7 761.8 487.7 764.7 486.4 767.8 485.0 771.1 483.5 774.6 482.1 778.0 480.9 781.3 480.0 784.5 479.6 787.3 479.6 790.1 480.0 793.0 480.7 795.9 481.5 798.6 482.4 801.2 483.3 803.5 484.0 805.6 484.6 807.8 483.1 810.3 481.2 813.0 479.3 816.0 477.1 819.0 474.9 822.1 472.7 825.2 470.5 828.2 468.4 831.5 466.3 835.2 464.2 839.1 462.2 843.0 460.1 846.5 458.0 849.5 455.8 851.6 453.4 852.6 451.0 852.4 448.2 851.0 445.3 848.8 442.1 846.1 438.9 843.1 435.7 840.2 432.7 837.7 430.0 835.7 427.7 833.9 429.6 831.7 431.8 829.2 434.2 826.6 436.7 824.1 439.4 821.6 442.2 819.3 445.1 817.4 448.1 815.9 451.7 814.6 456.1 813.6 460.8 812.7 465.6 811.9 470.0 811.0 473.6 810.0 476.1 808.9 477.1 807.9 476.8 806.7 475.5 805.6 473.6 804.4 471.3 803.2 468.9 802.1 466.5 801.1 464.3 800.2 462.7 799.9 459.9 799.3 456.6 798.6 452.9 798.0 449.0 797.5 445.1 797.4 441.2 797.7 437.7 798.7 434.5 800.6 431.7 803.3 429.0 806.5 426.6 810.1 424.3 813.8 422.2 817.3 420.2 820.5 418.4 823.0 416.8 826.5 417.3 831.0 417.8 836.2 418.2 841.5 418.8 846.5 419.5 850.7 420.4 853.8 421.6 855.2 423.1 854.9 425.0 853.3 427.2 850.8 429.8 847.6 432.5 844.1 435.1 840.8 437.7 837.8 440.0 835.6 441.9 833.6 442.3 831.2 442.7 828.5 443.2 825.8 443.7 823.0 444.2 820.3 444.6 817.9 445.1 816.0 445.4 814.8 446.0 813.3 446.7 811.7 447.5 810.0 448.3 808.3 449.2 806.7 449.9 805.2 450.7 804.0 451.2 803.8 450.1 803.5 448.7 803.1 447.1 802.7 445.5 802.4 443.9 802.3 442.2 802.4 440.7 802.8 439.3 803.9 437.6 805.7 436.0 807.9 434.5 810.3 433.0 812.8 431.6 815.3 430.4 817.4 429.2 819.2 428.1 818.5 429.5 817.8 431.1 816.9 432.9 816.0 434.8 815.1 436.7 814.3 438.6 813.5 440.2 812.9 441.5 810.1 443.1 806.8 445.2 803.1 447.6 799.2 450.0 795.3 452.2 791.6 453.9 788.3 454.7 785.5 454.5 783.4 453.2 781.6 451.0 780.1 448.1 778.7 444.9 777.4 441.4 776.3 438.1 775.2 435.1 774.2 432.8" fill="none" stroke-linejoin="round" stroke-linecap="round" stroke="#3204ff" stroke-width="2.1"/>
<path d="M774.2 432.8L776.8 432.4 779.8 432.0 783.1 431.6 786.7 431.1 790.2 430.4 793.7 429.6 796.9 428.5 799.6 427.1 802.0 425.4 804.1 423.2 806.1 420.7 808.0 418.1 809.7 415.4 811.3 412.9 812.7 410.7 814.1 408.8 815.9 405.8 818.0 402.3 820.4 398.3 822.9 394.1 825.4 389.9 827.8 386.0 830.0 382.4 831.8 379.4 833.0 382.3 834.8 386.0 836.8 390.1 838.8 394.3 840.6 398.5 841.8 402.1 842.4 405.0 841.9 406.9 840.5 407.7 838.4 407.9 835.7 407.6 832.6 406.9 829.3 406.0 826.0 404.8 822.9 403.6 820.1 402.3 817.3 400.7 814.8 398.6 812.3 396.2 809.9 393.7 807.4 391.1 804.8 388.7 802.0 386.6 799.0 385.0 795.1 383.6 790.7 382.6 786.1 381.9 781.3 381.5 776.6 381.2 772.2 380.9 768.2 380.7 764.8 380.3 763.8 382.6 762.7 385.3 761.5 388.3 760.2 391.4 758.8 394.6 757.6 397.6 756.5 400.3 755.6 402.5 755.7 406.1 756.1 410.7 756.6 415.8 757.0 421.1 757.2 426.1 757.0 430.6 756.3 433.9 754.9 435.8 752.8 436.1 749.8 435.1 746.3 433.2 742.5 430.7 738.6 427.9 734.9 425.2 731.6 422.8 728.9 421.0 725.3 422.5 720.8 424.5 715.8 426.9 710.6 429.2 705.6 431.3 701.1 432.7 697.5 433.2 695.2 432.5 694.3 430.4 694.4 427.0 695.4 422.7 696.9 417.9 698.6 412.8 700.4 408.0 701.9 403.7 702.9 400.2 705.2 398.6 707.9 396.3 710.8 393.8 714.0 391.2 717.2 388.9 720.3 387.0 723.3 385.8 725.9 385.6 728.2 386.5 730.5 388.4 732.6 390.9 734.7 393.8 736.6 396.9 738.4 399.9 740.1 402.5 741.5 404.6 741.5 406.0 741.4 407.9 741.2 410.0 741.1 412.2 741.0 414.2 741.0 415.9 741.2 417.2 741.6 417.8 742.1 417.6 742.8 416.8 743.5 415.7 744.3 414.3 745.3 412.8 746.3 411.5 747.4 410.5 748.6 410.0 751.0 410.1 753.9 411.0 757.1 412.6 760.5 414.6 764.0 416.7 767.3 418.8 770.2 420.7 772.7 422.0 774.8 419.8 777.5 417.1 780.7 414.1 784.0 410.9 786.9 407.7 789.4 404.8 790.9 402.1 791.3 400.0 790.7 398.9 789.4 397.9 787.6 397.0 785.6 396.2 783.7 395.5 782.0 394.8 780.9 394.2 780.6 393.7 781.5 393.0 783.6 392.2 786.6 391.5 790.0 390.9 793.6 390.5 796.8 390.5 799.3 390.8 800.7 391.7" fill="none" stroke-linejoin="round" stroke-linecap="round" stroke="#3204ff" stroke-width="2.1"/>
<path d="M772.1 435.2L774.9 434.5 778.2 433.9 781.8 433.3 785.6 432.6 789.5 431.7 793.2 430.6 796.6 429.1 799.5 427.3 802.1 424.9 804.3 422.0 806.4 418.7 808.3 415.1 810.0 411.6 811.6 408.2 813.0 405.2 814.4 402.6 816.3 400.2 818.7 397.2 821.4 393.9 824.2 390.4 826.9 386.9 829.6 383.6 832.0 380.6 833.9 378.1 834.8 381.1 836.2 384.9 837.7 389.2 839.3 393.6 840.6 397.9 841.4 401.8 841.5 405.0 840.7 407.2 839.0 408.3 836.6 408.9 833.6 409.1 830.2 408.9 826.6 408.4 823.0 407.5 819.7 406.4 816.8 405.2 814.0 403.2 811.6 400.5 809.3 397.2 807.1 393.7 804.9 390.2 802.5 386.9 799.8 384.1 796.8 382.1 793.0 380.8 788.6 380.1 783.9 379.8 779.1 379.9 774.3 380.2 769.7 380.5 765.6 380.8 762.2 380.8 761.7 382.8 761.1 385.3 760.4 388.1 759.8 390.9 759.1 393.8 758.4 396.6 757.8 399.0 757.4 401.1 757.0 405.1 756.7 410.1 756.5 415.9 756.2 421.8 755.7 427.4 754.9 432.3 753.5 436.1 751.6 438.2 749.2 438.5 746.1 437.7 742.6 435.9 738.9 433.6 735.2 431.0 731.6 428.5 728.3 426.2 725.7 424.6 722.5 425.3 718.4 426.5 713.8 427.8 709.1 429.1 704.5 430.2 700.4 430.7 697.1 430.6 695.0 429.6 694.0 427.6 694.0 424.6 694.6 420.9 695.7 416.8 697.1 412.6 698.4 408.6 699.6 405.0 700.3 402.1 703.2 400.1 706.6 397.4 710.5 394.4 714.5 391.3 718.5 388.4 722.4 386.2 726.0 384.9 729.1 384.9 731.6 386.2 733.9 388.7 736.0 392.1 737.9 395.9 739.6 399.9 741.2 403.9 742.7 407.4 744.1 410.1 743.8 410.6 743.3 411.3 742.8 412.1 742.3 412.9 741.9 413.6 741.5 414.2 741.2 414.7 741.1 414.8 741.2 414.5 741.5 413.6 741.9 412.4 742.5 411.0 743.2 409.5 744.1 408.2 745.1 407.2 746.1 406.6 748.4 406.7 751.3 407.8 754.8 409.7 758.5 412.0 762.2 414.6 765.8 417.1 769.0 419.3 771.7 420.9 773.5 419.0 775.9 416.7 778.6 414.1 781.4 411.5 784.0 408.7 786.1 406.1 787.5 403.6 787.9 401.4 787.3 399.7 785.7 398.0 783.6 396.4 781.3 394.8 778.9 393.4 777.0 392.1 775.7 391.0 775.4 390.3 777.0 389.6 780.5 389.3 785.3 389.4 790.7 389.8 796.2 390.6 801.1 391.7 804.9 393.1 806.7 394.8" fill="none" stroke-linejoin="round" stroke-linecap="round" stroke="#ff7a06" stroke-width="2.1"/>
<path d="M806.7 394.8L806.4 397.1 804.5 400.2 801.4 403.8 797.8 407.6 794.1 411.3 791.0 414.6 789.0 417.2 788.7 418.8 790.0 419.3 792.5 419.0 795.9 418.2 799.9 417.0 804.0 415.6 808.1 414.1 811.6 412.9 814.4 412.1 816.6 411.4 819.1 410.5 821.9 409.4 824.9 408.3 827.9 407.4 830.9 406.7 833.7 406.3 836.2 406.4 838.3 407.0 840.3 408.0 842.2 409.2 844.0 410.6 845.8 412.1 847.4 413.5 848.9 414.7 850.3 415.7 847.1 418.2 842.9 421.0 838.2 424.2 833.3 427.6 828.8 431.0 825.1 434.2 822.5 437.3 821.6 439.9 822.1 441.5 823.3 442.8 825.0 444.0 827.2 445.2 829.6 446.4 831.9 447.7 834.2 449.2 836.0 450.8 838.1 453.3 840.1 456.2 842.1 459.4 844.0 462.6 845.8 465.9 847.6 469.0 849.1 471.8 850.5 474.1 848.4 476.3 845.8 479.1 843.0 482.4 840.0 485.7 837.1 488.8 834.2 491.3 831.6 493.0 829.4 493.6 828.2 493.3 827.0 492.5 825.9 491.3 824.9 490.0 823.9 488.5 823.1 487.1 822.3 485.8 821.5 484.9 822.2 482.4 823.0 479.4 823.9 476.0 824.9 472.5 825.8 469.0 826.7 465.6 827.5 462.6 828.2 460.1 830.5 457.0 833.2 452.9 836.2 448.2 839.4 443.4 842.5 439.0 845.5 435.4 848.2 433.0 850.5 432.2 851.9 433.0 853.1 434.7 854.2 437.1 855.2 439.9 856.1 442.9 857.0 445.8 857.7 448.4 858.5 450.4 857.7 447.2 856.8 443.4 855.9 439.2 854.9 434.8 853.8 430.3 852.6 425.9 851.3 421.8 850.0 418.1 848.8 415.2 847.7 412.1 846.4 409.0 845.1 406.1 843.8 403.5 842.4 401.4 840.9 399.9 839.3 399.2 837.5 399.6 835.4 400.9 833.2 402.9 831.0 405.4 828.8 408.2 826.8 411.0 825.1 413.7 823.8 416.1 823.2 417.7 822.9 419.4 822.8 421.1 822.8 422.8 822.8 424.5 822.6 426.0 822.1 427.4 821.1 428.6 818.6 429.9 814.9 430.5 810.5 430.6 805.5 430.5 800.5 430.3 795.5 430.3 791.0 430.8 787.3 431.8 784.8 433.1 782.5 434.5 780.4 436.2 778.5 438.0 776.6 439.9 774.8 441.9 773.1 444.1 771.2 446.3 769.0 449.4 766.7 452.9 764.5 456.6 762.3 460.5 760.3 464.4 758.3 468.0 756.6 471.3 755.1 474.0 754.4 474.0 753.6 473.9 752.7 473.9 751.8 473.8 750.9 473.7 749.9 473.5 749.0 473.2 748.1 472.8" fill="none" stroke-linejoin="round" stroke-linecap="round" stroke="#ff7a06" stroke-width="2.1"/>
<path d="M800.7 391.7L800.8 393.7 799.4 396.9 797.0 400.8 794.2 405.1 791.4 409.3 789.0 413.2 787.6 416.1 787.6 417.9 788.9 418.3 791.1 417.9 794.0 417.0 797.3 415.7 800.7 414.2 804.0 412.7 807.0 411.4 809.3 410.5 811.9 410.5 815.1 410.4 818.5 410.2 822.2 410.1 825.9 410.1 829.6 410.2 832.9 410.5 835.9 411.1 838.1 411.8 840.2 412.7 842.2 413.7 844.2 414.9 846.0 416.0 847.7 417.1 849.2 418.1 850.6 418.9 847.6 421.2 843.8 424.0 839.4 427.1 834.9 430.4 830.7 433.7 827.2 436.9 824.9 439.9 824.0 442.4 824.4 443.8 825.5 444.9 827.0 446.0 828.9 447.0 830.9 448.0 832.9 449.2 834.7 450.5 836.2 452.2 837.9 455.0 839.4 458.4 840.8 462.2 842.1 466.3 843.3 470.3 844.4 474.1 845.4 477.6 846.3 480.5 844.7 481.0 842.8 481.8 840.7 482.6 838.5 483.5 836.2 484.3 834.0 484.9 832.0 485.3 830.1 485.3 828.8 485.0 827.6 484.4 826.4 483.7 825.2 482.9 824.1 482.0 823.1 481.2 822.2 480.5 821.4 479.9 821.6 477.4 822.0 474.4 822.3 471.1 822.7 467.6 823.1 464.1 823.5 460.7 823.8 457.8 824.1 455.3 826.4 453.3 829.1 450.8 832.2 447.8 835.4 444.9 838.7 442.1 841.8 439.9 844.8 438.4 847.4 438.0 849.2 438.7 851.0 440.0 852.7 441.9 854.4 444.1 855.9 446.4 857.3 448.7 858.6 450.7 859.7 452.2 859.6 449.0 859.5 445.2 859.5 440.9 859.4 436.4 859.2 431.9 858.8 427.6 858.0 423.6 857.0 420.2 855.9 417.9 854.6 415.5 853.2 413.3 851.7 411.2 850.0 409.4 848.2 407.9 846.4 406.8 844.5 406.1 842.0 406.0 839.1 406.5 835.9 407.5 832.7 408.8 829.7 410.5 826.9 412.4 824.6 414.3 823.1 416.2 822.5 417.9 822.5 419.9 822.9 422.1 823.4 424.3 824.0 426.5 824.3 428.6 824.2 430.4 823.4 431.8 821.0 433.0 817.3 433.4 812.7 433.2 807.6 432.7 802.3 432.1 797.1 431.8 792.4 431.8 788.5 432.7 785.9 433.8 783.6 435.1 781.5 436.7 779.5 438.4 777.7 440.2 775.8 442.2 774.0 444.3 772.2 446.5 770.0 449.3 767.8 452.7 765.6 456.2 763.5 459.9 761.5 463.6 759.7 467.0 758.0 470.1 756.5 472.8 755.5 472.7 754.3 472.7 753.0 472.7 751.6 472.7 750.2 472.7 748.8 472.5 747.5 472.1 746.3 471.5" fill="none" stroke-linejoin="round" stroke-linecap="round" stroke="#3204ff" stroke-width="2.1"/>
<path d="M748.1 472.8L746.6 471.4 745.1 469.4 743.7 467.0 742.2 464.4 740.7 461.7 739.0 459.2 737.2 457.1 735.1 455.6 732.7 454.7 729.8 454.2 726.7 454.0 723.5 454.0 720.4 454.2 717.4 454.4 714.7 454.6 712.4 454.6 711.7 452.6 710.7 450.3 709.7 447.7 708.7 444.9 707.6 442.2 706.6 439.6 705.7 437.2 705.0 435.2 704.6 434.3 704.2 433.5 703.9 432.7 703.5 432.0 703.2 431.3 703.0 430.6 702.9 429.9 702.9 429.1 703.0 428.1 703.3 427.0 703.7 425.9 704.2 424.8 704.8 423.7 705.6 422.6 706.3 421.5 707.2 420.6 708.6 419.4 710.2 418.3 712.1 417.3 714.1 416.4 716.1 415.5 718.0 414.6 719.7 413.9 721.1 413.2 724.0 411.5 727.6 409.5 731.5 407.3 735.6 405.0 739.7 402.6 743.6 400.4 747.1 398.4 750.1 396.7 751.0 395.4 752.0 393.8 753.3 392.0 754.5 390.1 755.8 388.2 757.0 386.4 758.1 384.8 759.0 383.5 757.5 382.2 755.7 380.6 753.6 378.9 751.5 377.1 749.4 375.3 747.4 373.6 745.5 372.0 744.0 370.8 743.1 373.0 741.7 375.8 740.2 379.0 738.7 382.4 737.3 385.5 736.3 388.3 735.8 390.4 736.1 391.5 737.0 391.7 738.4 391.4 740.2 390.6 742.2 389.4 744.5 388.0 746.9 386.5 749.2 385.0 751.5 383.6 754.5 381.5 757.7 379.0 761.0 376.2 764.3 373.2 767.8 370.4 771.4 367.8 775.1 365.5 778.9 363.9 782.9 362.8 787.4 362.1 792.0 361.8 796.7 361.8 801.3 361.9 805.7 362.1 809.6 362.2 812.9 362.1 814.6 363.8 816.8 365.9 819.4 368.2 822.0 370.6 824.3 373.0 826.2 375.3 827.3 377.3 827.4 378.9 826.1 380.1 823.5 381.1 820.0 381.7 815.9 382.2 811.5 382.5 807.3 382.8 803.5 383.0 800.6 383.4 799.0 382.2 796.8 380.8 794.3 379.2 791.7 377.5 789.4 375.8 787.5 374.3 786.3 372.9 786.0 371.8 787.4 370.8 790.5 370.2 794.9 369.9 800.0 369.8 805.5 369.8 810.8 369.8 815.5 369.9 819.2 369.8 818.8 372.0 818.4 374.6 817.9 377.6 817.4 380.7 816.9 383.8 816.4 386.7 815.9 389.4 815.6 391.6 812.6 392.1 809.1 392.8 805.2 393.5 801.1 394.2 797.0 395.0 793.1 395.7 789.6 396.3 786.7 396.8 785.8 397.3 784.7 397.9 783.5 398.7 782.3 399.4 781.0 400.1 779.7 400.7 778.3 401.1 777.0 401.3" fill="none" stroke-linejoin="round" stroke-linecap="round" stroke="#ff7a06" stroke-width="2.1"/>
<path d="M746.3 471.5L745.0 470.4 744.0 468.8 743.0 466.9 742.1 464.8 741.2 462.6 740.1 460.6 738.9 458.9 737.2 457.6 734.6 456.5 731.4 455.8 727.9 455.4 724.1 455.3 720.3 455.3 716.7 455.4 713.4 455.4 710.7 455.3 710.1 454.2 709.3 452.8 708.4 451.3 707.5 449.8 706.7 448.1 705.9 446.4 705.4 444.7 705.1 443.1 705.3 441.3 705.8 439.4 706.6 437.5 707.6 435.5 708.5 433.6 709.4 431.7 709.9 429.8 710.2 427.9 709.9 426.2 709.3 424.4 708.5 422.7 707.5 420.9 706.7 419.3 706.0 417.7 705.7 416.4 706.0 415.3 706.8 414.5 708.1 413.9 709.8 413.4 711.7 413.1 713.7 412.9 715.6 412.8 717.3 412.6 718.7 412.4 721.8 411.2 725.7 409.8 729.9 408.1 734.3 406.4 738.8 404.7 743.0 403.1 746.8 401.7 750.0 400.4 750.7 398.9 751.4 397.1 752.3 395.0 753.2 392.8 754.1 390.7 755.0 388.6 755.8 386.8 756.4 385.2 755.0 383.7 753.3 381.9 751.3 379.8 749.3 377.6 747.3 375.5 745.4 373.4 743.6 371.6 742.2 370.0 741.4 372.0 740.1 374.5 738.7 377.2 737.3 380.1 736.1 382.9 735.2 385.3 734.9 387.3 735.2 388.6 736.3 389.2 737.9 389.3 740.0 389.1 742.4 388.5 745.0 387.8 747.8 386.8 750.4 385.8 752.9 384.8 756.3 383.0 759.8 380.6 763.4 377.8 767.1 374.8 770.8 371.9 774.5 369.1 778.2 366.9 781.9 365.2 785.1 364.4 788.4 363.8 791.7 363.6 795.0 363.5 798.3 363.5 801.3 363.6 804.0 363.6 806.4 363.5 808.2 364.8 810.7 366.2 813.4 367.9 816.3 369.6 818.9 371.3 821.0 372.9 822.4 374.4 822.8 375.6 821.7 376.7 819.4 377.6 816.2 378.3 812.4 378.9 808.4 379.4 804.4 379.9 800.9 380.3 798.2 380.8 797.2 379.7 795.9 378.4 794.3 376.9 792.8 375.4 791.3 373.9 790.2 372.5 789.5 371.4 789.5 370.5 790.6 369.9 792.9 369.8 796.0 370.0 799.7 370.4 803.5 371.0 807.2 371.6 810.6 372.1 813.1 372.4 813.4 374.6 813.7 377.2 814.1 380.1 814.4 383.2 814.8 386.2 815.1 389.1 815.5 391.7 815.7 393.9 812.7 394.5 809.1 395.2 805.1 395.9 800.8 396.7 796.6 397.5 792.5 398.2 788.9 398.9 785.9 399.5 784.6 399.8 783.1 400.4 781.5 401.0 779.7 401.6 777.9 402.1 776.2 402.4 774.7 402.4 773.4 402.1" fill="none" stroke-linejoin="round" stroke-linecap="round" stroke="#3204ff" stroke-width="2.1"/>
<path d="M773.4 402.1L772.2 401.2 771.2 399.7 770.3 397.8 769.5 395.7 768.8 393.8 768.1 392.1 767.4 391.0 766.8 390.6 766.0 391.3 765.3 393.0 764.7 395.3 764.1 398.1 763.5 401.2 763.1 404.1 762.6 406.7 762.2 408.7 762.1 412.3 762.3 416.8 762.5 421.9 762.7 427.3 762.7 432.4 762.2 437.0 761.3 440.7 759.7 443.2 757.8 444.2 755.4 444.5 752.7 444.4 749.8 443.9 746.8 443.3 744.0 442.6 741.4 442.0 739.4 441.7 740.8 444.6 742.3 448.2 743.9 452.2 745.7 456.4 747.7 460.5 749.8 464.0 752.2 466.8 754.8 468.5 757.7 469.0 761.1 468.6 764.7 467.4 768.5 465.8 772.3 464.0 775.9 462.2 779.4 460.7 782.4 459.7 784.3 459.3 786.2 459.0 787.9 458.7 789.7 458.4 791.3 458.2 792.8 458.1 794.1 457.9 795.4 457.7 795.1 455.7 794.8 453.4 794.4 450.9 794.0 448.2 793.6 445.4 793.3 442.5 793.0 439.7 792.8 437.1 792.6 434.4 792.6 431.6 792.6 428.8 792.6 426.0 792.6 423.3 792.7 420.8 792.7 418.4 792.8 416.4 791.1 417.7 789.2 419.2 787.1 420.9 784.8 422.6 782.6 424.4 780.4 426.0 778.5 427.5 776.9 428.8 777.3 426.7 777.7 424.1 778.2 421.3 778.8 418.3 779.3 415.3 779.8 412.5 780.3 409.9 780.7 407.8 780.0 405.4 779.3 402.5 778.4 399.3 777.6 395.9 776.7 392.5 775.8 389.3 775.1 386.4 774.4 384.0 776.3 383.4 778.4 382.6 780.9 381.8 783.4 380.9 786.0 380.0 788.4 379.2 790.6 378.4 792.4 377.8 790.9 377.5 789.1 377.2 787.1 376.8 784.9 376.5 782.8 376.1 780.8 375.7 779.0 375.4 777.5 375.2 774.9 374.7 771.8 374.0 768.5 373.2 764.9 372.4 761.2 371.8 757.7 371.6 754.3 371.8 751.3 372.7 748.3 374.9 745.6 378.3 743.1 382.5 740.8 387.0 738.5 391.6 736.2 395.8 733.8 399.2 731.2 401.4 729.2 402.3 727.0 402.8 724.6 403.1 722.2 403.2 720.1 403.2 718.3 402.9 717.0 402.6 716.5 402.2 716.6 401.7 717.2 400.9 718.2 400.0 719.4 399.0 720.8 398.0 722.3 397.2 723.8 396.7 725.2 396.5 727.3 397.1 729.6 398.5 732.0 400.5 734.6 403.0 737.2 405.6 739.9 408.3 742.7 410.9 745.5 413.1 749.0 415.0 753.1 416.8 757.4 418.5 761.7 420.2 765.7 422.0 769.2 423.9 771.9 426.1 773.4 428.7" fill="none" stroke-linejoin="round" stroke-linecap="round" stroke="#3204ff" stroke-width="2.1"/>
<path d="M777.0 401.3L775.2 401.0 773.2 400.2 771.1 399.0 769.0 397.8 767.0 396.6 765.2 395.6 763.7 395.2 762.7 395.4 762.1 396.3 762.0 397.8 762.2 399.7 762.6 401.8 763.0 404.1 763.5 406.3 764.0 408.2 764.2 409.7 764.1 413.1 764.1 417.4 764.3 422.1 764.3 427.0 764.1 431.8 763.6 436.2 762.6 439.8 760.9 442.4 758.9 443.7 756.3 444.4 753.3 444.6 750.1 444.5 746.9 444.3 743.8 444.0 741.0 443.8 738.7 443.7 740.5 446.7 742.5 450.6 744.7 454.9 747.0 459.3 749.5 463.6 752.1 467.3 754.9 470.0 757.7 471.5 760.6 471.5 763.7 470.3 767.1 468.4 770.5 466.0 773.9 463.4 777.1 461.1 780.2 459.3 783.0 458.4 784.7 458.3 786.4 458.5 788.0 458.8 789.6 459.2 791.1 459.8 792.4 460.3 793.7 460.7 794.8 461.0 795.0 458.6 795.3 455.7 795.6 452.6 795.9 449.2 796.2 445.8 796.4 442.4 796.4 439.2 796.2 436.3 795.9 433.9 795.4 431.5 794.8 429.2 794.1 426.9 793.4 424.8 792.7 422.8 792.1 420.9 791.7 419.3 790.3 420.4 788.7 421.7 786.8 423.1 784.9 424.7 783.0 426.2 781.2 427.6 779.5 428.9 778.2 430.0 778.1 427.7 778.1 424.9 778.1 421.8 778.0 418.5 778.0 415.2 777.9 412.1 777.9 409.3 777.9 407.0 777.4 404.7 776.8 402.0 776.1 399.0 775.4 395.8 774.7 392.6 774.1 389.6 773.5 386.9 773.0 384.6 774.4 384.4 776.1 384.0 778.0 383.7 779.9 383.3 781.9 382.9 783.8 382.5 785.5 382.2 786.9 381.9 786.1 381.4 785.0 380.7 783.9 380.0 782.7 379.2 781.5 378.5 780.3 377.7 779.3 377.1 778.5 376.5 775.3 376.0 771.5 375.0 767.3 373.9 762.8 372.8 758.4 371.9 754.2 371.5 750.4 371.6 747.3 372.6 745.1 374.4 743.4 377.1 742.1 380.3 740.9 383.9 739.8 387.6 738.6 391.1 737.2 394.2 735.3 396.6 733.2 398.3 730.6 399.9 727.8 401.4 724.9 402.7 722.2 403.7 719.9 404.4 718.3 404.8 717.6 404.7 717.6 404.4 717.9 403.7 718.4 402.8 719.1 401.9 720.0 401.0 720.9 400.1 721.9 399.5 722.8 399.3 724.8 399.7 727.1 401.1 729.7 403.2 732.5 405.7 735.5 408.6 738.5 411.4 741.6 414.0 744.7 416.1 748.4 417.9 752.6 419.3 757.1 420.6 761.5 421.8 765.8 423.1 769.5 424.7 772.4 426.6 774.3 429.1" fill="none" stroke-linejoin="round" stroke-linecap="round" stroke="#ff7a06" stroke-width="2.1"/>
<path d="M774.3 429.1L775.0 432.3 774.6 436.2 773.3 440.6 771.6 445.1 769.5 449.7 767.5 454.0 765.7 457.9 764.5 461.2 765.3 460.7 766.1 460.2 767.1 459.7 768.1 459.1 769.1 458.5 770.3 457.8 771.4 457.1 772.7 456.4 775.1 455.1 777.9 453.6 780.9 451.9 784.1 450.2 787.3 448.4 790.3 446.8 793.1 445.3 795.3 444.1 794.7 443.6 794.0 443.1 793.3 442.5 792.4 441.9 791.6 441.3 790.7 440.5 789.9 439.8 789.1 439.0 788.0 437.6 786.8 436.0 785.5 434.1 784.2 432.2 783.1 430.4 782.2 428.9 781.5 428.0 781.2 427.7 781.5 428.4 782.6 430.2 784.2 432.8 786.0 435.8 787.7 438.9 789.1 441.8 789.8 444.1 789.7 445.6 788.5 446.3 786.4 446.5 783.7 446.4 780.6 445.9 777.4 445.2 774.2 444.2 771.3 443.0 768.8 441.7 766.8 439.8 764.9 437.1 763.3 434.0 761.8 430.7 760.3 427.6 758.8 425.0 757.3 423.1 755.6 422.3 754.1 422.5 752.4 423.6 750.7 425.2 749.0 427.1 747.3 429.2 745.8 431.2 744.4 433.0 743.1 434.4 744.7 437.5 746.5 441.2 748.5 445.4 750.7 449.8 752.8 454.2 754.9 458.3 756.7 462.1 758.2 465.2 757.1 465.1 755.7 465.0 754.2 464.9 752.6 464.8 751.0 464.7 749.5 464.6 748.1 464.5 747.0 464.4 744.1 464.1 740.7 463.7 736.9 463.3 733.0 462.9 729.0 462.4 725.2 462.0 721.8 461.6 719.0 461.3 718.5 459.6 718.0 457.6 717.5 455.3 716.9 452.9 716.3 450.5 715.7 448.2 715.2 446.2 714.8 444.5 715.6 442.9 716.6 441.0 717.7 438.8 718.9 436.6 720.0 434.3 721.1 432.2 722.1 430.3 723.0 428.7 725.7 427.4 729.1 425.8 732.8 424.1 736.7 422.4 740.6 420.6 744.3 418.9 747.6 417.3 750.4 416.1 752.4 415.0 755.0 413.9 757.9 412.6 760.9 411.3 763.8 409.8 766.4 408.3 768.3 406.7 769.5 405.0 769.9 403.6 770.0 402.1 769.8 400.5 769.4 398.8 768.8 397.2 768.1 395.8 767.1 394.5 766.1 393.4 764.0 392.4 761.3 391.9 758.0 391.7 754.4 391.8 750.8 392.0 747.3 392.2 744.2 392.4 741.7 392.4 743.0 392.4 744.6 392.4 746.4 392.3 748.3 392.3 750.1 392.3 751.9 392.2 753.5 392.2 754.8 392.2 757.9 393.7 761.6 395.6 765.7 397.6 770.1 399.8 774.4 402.0 778.5 404.1 782.2 405.9 785.3 407.5" fill="none" stroke-linejoin="round" stroke-linecap="round" stroke="#ff7a06" stroke-width="2.1"/>
<path d="M773.4 428.7L773.6 431.9 772.6 435.6 770.8 439.7 768.3 444.0 765.6 448.2 762.9 452.2 760.6 455.8 758.9 458.8 759.8 459.0 760.9 459.2 762.1 459.5 763.4 459.7 764.7 459.9 766.1 460.0 767.6 460.0 769.1 459.7 772.1 458.6 775.6 456.8 779.4 454.4 783.3 451.7 787.2 448.9 790.9 446.2 794.2 443.8 797.0 441.9 796.0 441.7 794.9 441.5 793.6 441.2 792.2 441.0 790.8 440.7 789.4 440.3 788.2 439.7 787.0 439.1 785.8 438.1 784.6 436.7 783.5 435.2 782.4 433.5 781.4 432.0 780.6 430.7 780.0 429.9 779.7 429.6 780.0 430.5 781.2 432.4 782.9 435.2 784.9 438.4 786.8 441.7 788.4 444.7 789.2 447.1 789.1 448.6 787.9 449.1 785.8 449.2 783.1 448.8 779.9 448.1 776.6 447.0 773.4 445.8 770.5 444.3 768.1 442.8 766.2 440.7 764.7 437.8 763.4 434.6 762.3 431.2 761.2 428.0 760.0 425.2 758.6 423.1 756.9 422.1 754.8 422.4 752.5 423.6 749.9 425.5 747.3 428.0 744.7 430.6 742.2 433.2 740.0 435.5 738.1 437.2 740.3 439.7 743.0 442.7 746.0 446.1 749.1 449.6 752.2 453.2 755.1 456.5 757.8 459.6 760.0 462.1 758.8 461.8 757.4 461.4 755.8 461.0 754.1 460.6 752.4 460.2 750.8 459.8 749.4 459.4 748.2 459.1 745.2 459.3 741.5 459.5 737.4 459.8 733.2 460.1 728.9 460.3 724.8 460.6 721.2 460.8 718.1 461.0 717.6 458.7 717.1 455.9 716.5 452.8 715.8 449.6 715.2 446.4 714.5 443.3 714.0 440.5 713.5 438.2 714.2 437.1 715.1 435.7 716.1 434.2 717.2 432.6 718.2 431.0 719.2 429.5 720.1 428.1 720.8 427.0 723.7 426.2 727.3 425.3 731.2 424.3 735.3 423.3 739.4 422.2 743.3 421.2 746.9 420.3 749.8 419.6 752.2 417.8 755.3 415.8 758.8 413.5 762.4 411.0 765.7 408.5 768.6 406.1 770.6 403.8 771.5 401.7 771.4 400.3 771.0 398.9 770.3 397.6 769.3 396.2 768.1 395.0 766.8 393.8 765.4 392.9 763.9 392.1 761.6 391.5 758.7 391.4 755.4 391.6 752.0 392.0 748.5 392.6 745.2 393.2 742.3 393.7 739.8 394.0 741.2 394.1 742.9 394.2 744.9 394.2 746.9 394.3 748.9 394.4 750.8 394.5 752.5 394.5 753.9 394.6 757.0 396.0 760.7 397.8 764.8 399.7 769.2 401.8 773.5 403.8 777.7 405.8 781.4 407.6 784.5 409.0" fill="none" stroke-linejoin="round" stroke-linecap="round" stroke="#3204ff" stroke-width="2.1"/>
<path d="M785.3 407.5L786.8 407.1 788.6 406.6 790.6 405.9 792.7 405.3 794.7 404.8 796.5 404.5 798.1 404.5 799.1 405.0 799.5 406.5 799.2 408.9 798.4 411.8 797.3 415.0 796.2 418.2 795.4 421.0 795.0 423.3 795.5 424.5 796.5 424.8 798.0 424.4 799.9 423.5 801.9 422.3 804.2 421.0 806.4 419.7 808.5 418.8 810.4 418.3 811.9 418.2 813.5 418.2 815.1 418.4 816.6 418.7 818.1 419.0 819.5 419.3 820.7 419.6 821.8 419.7 821.9 421.6 822.0 424.0 822.1 426.7 822.2 429.4 822.3 432.0 822.5 434.2 822.8 435.8 823.2 436.4 823.6 436.2 824.1 435.5 824.7 434.6 825.2 433.4 825.8 432.1 826.4 430.8 826.9 429.7 827.3 428.9 826.1 427.5 824.8 426.0 823.4 424.3 821.8 422.5 820.2 420.6 818.6 418.8 817.0 416.9 815.6 415.2 814.2 413.7 812.8 412.0 811.4 410.4 810.1 408.8 808.7 407.2 807.5 405.8 806.4 404.5 805.4 403.3 804.7 405.7 804.0 408.8 803.2 412.3 802.4 415.9 801.4 419.3 800.3 422.3 798.8 424.6 797.1 426.0 794.8 426.4 791.8 426.0 788.4 425.1 784.8 423.6 781.4 421.8 778.4 419.8 776.0 417.6 774.4 415.4 774.0 413.0 774.5 410.1 775.8 406.9 777.3 403.6 778.9 400.3 780.1 397.1 780.7 394.2 780.3 391.7 778.8 389.6 776.2 387.9 773.1 386.4 769.5 385.1 766.0 383.8 762.6 382.5 759.8 381.1 757.9 379.5 757.1 378.3 756.6 377.0 756.2 375.7 755.9 374.3 755.7 373.0 755.6 371.8 755.4 370.7 755.2 369.7 757.1 371.1 759.3 372.7 761.8 374.5 764.4 376.4 767.0 378.3 769.7 380.1 772.3 381.9 774.8 383.5 776.9 384.7 779.1 385.9 781.3 387.1 783.4 388.2 785.5 389.2 787.5 390.2 789.3 391.1 790.8 391.8 791.8 393.5 793.1 395.6 794.5 397.8 795.9 400.2 797.4 402.6 798.7 404.8 800.0 406.8 801.0 408.5 799.3 409.4 797.4 410.4 795.2 411.5 792.9 412.7 790.6 414.0 788.3 415.3 786.0 416.8 784.0 418.4 781.6 420.4 779.0 422.7 776.3 425.3 773.7 427.9 771.4 430.5 769.7 432.8 768.7 434.9 768.7 436.5 770.0 437.5 772.5 437.9 776.0 438.0 780.0 437.8 784.2 437.7 788.3 437.7 792.0 438.2 794.8 439.2 796.7 440.6 798.4 442.4 799.9 444.4 801.2 446.6 802.4 448.8 803.5 450.9 804.6 452.8 805.5 454.4" fill="none" stroke-linejoin="round" stroke-linecap="round" stroke="#ff7a06" stroke-width="2.1"/>
<path d="M784.5 409.0L786.1 408.4 788.1 407.4 790.3 406.3 792.6 405.3 794.9 404.3 796.9 403.7 798.6 403.5 799.7 403.8 800.1 405.2 799.8 407.4 799.1 410.3 798.0 413.5 797.0 416.7 796.2 419.6 795.8 421.8 796.2 423.0 797.2 423.2 798.5 422.6 800.1 421.7 802.0 420.5 803.9 419.2 805.8 418.1 807.6 417.4 809.1 417.2 810.4 417.6 811.6 418.3 812.7 419.2 813.9 420.3 815.0 421.5 816.0 422.6 816.9 423.6 817.7 424.3 818.9 425.5 820.4 427.0 822.1 428.7 823.9 430.4 825.6 432.0 827.1 433.3 828.2 434.1 828.9 434.2 829.0 433.6 828.7 432.5 828.1 430.9 827.3 429.0 826.4 427.1 825.5 425.2 824.7 423.5 824.1 422.2 823.1 421.3 821.7 420.3 820.3 419.2 818.8 418.0 817.2 416.7 815.8 415.4 814.4 414.1 813.3 412.7 812.4 411.3 811.6 409.8 810.8 408.2 810.2 406.6 809.6 405.1 809.0 403.6 808.5 402.2 808.0 401.1 806.9 404.0 805.7 407.8 804.3 412.1 802.9 416.6 801.3 420.8 799.5 424.4 797.6 427.1 795.5 428.5 793.3 428.6 790.6 427.9 787.7 426.5 784.7 424.7 781.9 422.5 779.4 420.2 777.3 417.8 776.0 415.6 775.6 413.5 776.0 411.2 776.8 408.8 777.8 406.3 778.8 403.8 779.6 401.3 780.0 398.9 779.6 396.6 778.1 394.1 775.6 391.7 772.5 389.5 769.0 387.3 765.5 385.1 762.2 383.0 759.5 380.9 757.7 378.8 757.0 377.4 756.6 376.1 756.3 374.7 756.2 373.4 756.1 372.1 756.0 370.8 756.0 369.7 755.8 368.8 757.5 370.5 759.5 372.7 761.6 375.1 763.9 377.6 766.3 380.1 768.7 382.4 771.1 384.6 773.5 386.3 775.5 387.5 777.7 388.5 779.9 389.4 782.1 390.1 784.2 390.8 786.3 391.4 788.1 392.0 789.7 392.5 791.1 394.1 792.8 396.0 794.7 398.1 796.6 400.2 798.6 402.4 800.5 404.5 802.2 406.4 803.6 408.0 801.3 409.2 798.6 410.5 795.6 411.9 792.4 413.5 789.2 415.2 786.2 417.0 783.5 419.0 781.2 421.1 779.4 423.2 777.5 425.8 775.8 428.5 774.2 431.3 772.9 434.0 772.1 436.4 771.8 438.5 772.1 439.9 773.2 440.6 774.9 440.7 777.2 440.5 779.8 440.0 782.6 439.5 785.3 439.2 787.9 439.2 790.1 439.8 792.4 441.1 794.6 443.0 796.8 445.3 798.8 447.8 800.8 450.4 802.6 452.9 804.2 455.1 805.7 456.9" fill="none" stroke-linejoin="round" stroke-linecap="round" stroke="#3204ff" stroke-width="2.1"/>
<path d="M805.7 456.9L804.6 460.2 803.4 464.3 802.1 468.9 800.7 473.7 799.1 478.4 797.4 482.7 795.4 486.4 793.2 489.0 791.3 490.4 789.1 491.5 786.7 492.5 784.3 493.2 781.9 493.7 779.9 493.8 778.2 493.6 777.2 493.0 777.0 491.7 777.7 489.6 779.1 486.9 780.8 483.9 782.5 480.8 783.9 477.8 784.7 475.0 784.6 472.8 783.6 471.2 781.6 469.7 779.2 468.4 776.5 467.1 773.9 466.0 771.7 465.0 770.2 464.1 769.7 463.3 770.3 462.6 771.5 462.0 773.3 461.3 775.4 460.8 777.5 460.3 779.3 460.1 780.7 460.1 781.4 460.4 780.7 461.7 778.2 464.0 774.3 467.1 769.8 470.7 765.2 474.6 761.0 478.5 757.8 482.1 756.2 485.3 756.2 487.3 756.8 489.5 757.8 491.8 759.0 493.9 760.2 495.9 761.1 497.6 761.7 498.9 761.5 499.7 760.6 499.8 759.1 499.3 757.1 498.4 754.8 497.1 752.4 495.6 749.9 494.0 747.6 492.4 745.5 491.0 743.6 489.6 741.6 488.1 739.6 486.4 737.6 484.8 735.7 483.2 734.0 481.6 732.4 480.3 731.0 479.1 729.1 477.1 726.8 474.9 724.3 472.5 721.7 469.9 719.1 467.2 716.6 464.5 714.4 461.7 712.6 459.1 711.5 456.8 710.5 454.4 709.7 452.0 709.0 449.5 708.4 447.1 707.9 444.8 707.4 442.6 706.9 440.5 706.6 439.1 706.2 437.7 706.0 436.3 705.7 435.0 705.5 433.7 705.2 432.5 705.0 431.5 704.9 430.5 705.1 427.9 705.1 424.9 705.2 421.4 705.3 417.9 705.6 414.2 706.1 410.7 707.0 407.4 708.3 404.6 710.4 402.2 713.2 400.0 716.5 398.1 720.0 396.4 723.4 394.7 726.6 393.0 729.1 391.1 730.8 389.0 731.3 387.4 731.5 385.7 731.3 383.9 731.0 382.1 730.7 380.3 730.4 378.6 730.4 377.0 730.7 375.5 731.3 374.4 732.1 373.3 733.1 372.3 734.1 371.4 735.2 370.5 736.2 369.7 737.1 369.0 737.8 368.3 739.3 368.5 741.0 368.8 743.0 369.1 745.0 369.4 747.1 369.7 749.1 370.1 750.8 370.3 752.3 370.6 753.9 370.0 755.8 369.3 757.9 368.5 760.1 367.8 762.3 367.0 764.4 366.2 766.3 365.5 767.9 365.0 769.9 366.3 772.4 368.0 775.1 369.9 778.0 371.8 780.9 373.8 783.6 375.6 786.0 377.3 788.1 378.7 788.7 381.9 789.5 385.9 790.3 390.3 791.2 394.9 792.0 399.5 792.9 403.9 793.6 407.9 794.3 411.1" fill="none" stroke-linejoin="round" stroke-linecap="round" stroke="#3204ff" stroke-width="2.1"/>
<path d="M805.5 454.4L804.0 457.1 802.2 460.2 800.2 463.8 798.1 467.5 795.9 471.2 793.7 474.9 791.6 478.2 789.5 481.2 788.0 483.3 786.3 485.5 784.6 487.8 783.0 489.9 781.4 491.7 780.0 493.1 778.8 494.0 777.9 494.1 777.3 492.9 777.3 490.5 777.6 487.2 778.2 483.3 778.7 479.2 779.0 475.2 778.9 471.9 778.1 469.4 777.1 468.1 775.6 467.0 773.8 466.1 772.0 465.3 770.2 464.7 768.8 464.1 767.8 463.6 767.5 463.2 768.2 462.8 769.8 462.5 772.0 462.2 774.5 462.1 777.1 462.1 779.4 462.4 781.1 462.8 782.1 463.6 781.6 465.5 779.5 468.3 776.1 471.9 772.2 475.8 768.1 479.8 764.6 483.5 762.1 486.8 761.3 489.3 761.6 490.2 762.3 491.1 763.3 491.9 764.5 492.6 765.5 493.2 766.5 493.8 767.0 494.3 767.2 494.8 766.2 495.5 763.9 496.2 760.8 496.7 757.2 497.1 753.2 497.2 749.4 497.0 746.0 496.5 743.3 495.6 741.4 494.3 739.6 492.4 738.1 490.2 736.6 487.8 735.4 485.3 734.2 483.0 733.1 480.9 732.1 479.2 729.1 476.4 725.3 473.2 721.0 469.6 716.5 465.8 712.3 461.9 708.8 458.2 706.1 454.8 704.9 451.8 704.9 450.4 705.4 449.1 706.1 447.9 707.0 446.7 708.0 445.5 708.8 444.3 709.5 443.1 709.7 441.8 709.5 440.2 709.0 438.5 708.2 436.8 707.3 435.0 706.2 433.3 705.3 431.7 704.4 430.2 703.7 428.9 703.3 426.6 702.7 423.9 701.9 420.8 701.2 417.6 700.7 414.3 700.5 411.2 700.8 408.4 701.7 406.0 704.2 403.8 708.1 402.2 713.0 401.1 718.2 400.2 723.4 399.2 728.2 398.1 731.9 396.6 734.3 394.5 734.9 392.4 734.8 389.8 734.2 386.9 733.2 383.9 732.2 381.0 731.3 378.4 730.8 376.3 730.9 374.8 731.2 374.4 731.5 374.0 731.9 373.8 732.3 373.5 732.7 373.4 733.0 373.2 733.4 373.1 733.7 372.9 736.2 372.4 739.1 371.9 742.4 371.3 745.9 370.7 749.4 370.0 752.7 369.4 755.7 368.9 758.2 368.4 759.3 368.1 760.6 367.7 762.0 367.3 763.6 366.9 765.1 366.4 766.5 366.0 767.8 365.6 768.9 365.3 770.7 366.0 772.8 366.8 775.1 367.8 777.6 368.8 780.1 369.8 782.4 370.8 784.5 371.6 786.3 372.3 787.0 376.4 787.9 381.3 788.8 386.7 789.8 392.5 790.8 398.2 791.8 403.6 792.7 408.5 793.4 412.6" fill="none" stroke-linejoin="round" stroke-linecap="round" stroke="#ff7a06" stroke-width="2.1"/>
<path d="M793.4 412.6L790.0 413.6 785.9 414.9 781.4 416.3 776.7 417.7 771.9 419.2 767.4 420.5 763.3 421.8 760.0 422.8 757.4 425.2 754.1 428.0 750.4 431.2 746.6 434.6 742.9 437.9 739.6 441.1 736.9 443.9 735.1 446.3 734.6 447.1 734.2 447.9 734.0 448.6 733.8 449.3 733.6 450.0 733.5 450.6 733.4 451.1 733.2 451.7 731.1 451.3 728.5 450.8 725.4 450.1 722.3 449.5 719.4 449.0 716.9 448.7 715.1 448.7 714.3 449.2 714.9 450.6 717.4 452.9 721.2 455.8 725.9 459.1 730.9 462.5 735.8 465.8 740.1 468.8 743.4 471.1 744.9 471.7 746.8 472.5 749.0 473.3 751.2 474.2 753.4 475.0 755.5 475.9 757.4 476.6 759.0 477.2 760.4 480.0 762.0 483.4 763.9 487.1 765.8 491.0 767.7 494.9 769.6 498.7 771.2 502.0 772.6 504.8 775.4 504.9 778.7 505.1 782.3 505.3 786.1 505.5 790.0 505.7 793.8 505.7 797.4 505.5 800.7 505.1 803.3 504.5 805.9 503.5 808.5 502.3 811.0 501.1 813.3 499.9 815.3 499.0 817.1 498.5 818.4 498.5 818.8 498.7 819.2 499.1 819.6 499.5 819.9 500.0 820.1 500.4 820.3 500.8 820.5 501.1 820.6 501.1 820.4 500.2 819.8 498.0 818.7 494.9 817.3 491.4 815.8 487.8 814.2 484.7 812.7 482.4 811.5 481.5 810.8 481.6 810.2 482.0 809.5 482.7 808.8 483.5 808.2 484.4 807.6 485.3 807.1 486.1 806.6 486.7 807.4 487.3 808.4 488.1 809.4 489.1 810.5 490.0 811.7 490.9 812.9 491.6 814.3 492.1 815.7 492.3 818.5 491.8 821.8 490.5 825.5 488.5 829.3 486.0 833.2 483.3 836.9 480.4 840.3 477.7 843.2 475.2 845.1 473.4 847.0 471.5 848.7 469.6 850.3 467.6 851.8 465.7 853.2 463.9 854.5 462.3 855.6 460.9 855.4 457.3 855.4 452.8 855.5 447.8 855.4 442.6 855.2 437.5 854.6 433.0 853.6 429.3 852.0 427.0 850.3 426.1 848.2 425.8 845.8 426.0 843.3 426.4 840.7 427.0 838.3 427.6 836.1 428.1 834.3 428.4 834.3 424.9 834.2 420.8 834.2 416.1 834.1 411.2 834.0 406.3 834.0 401.7 833.9 397.5 833.9 394.0 835.4 392.8 837.1 391.4 839.1 389.7 841.2 388.0 843.3 386.3 845.3 384.7 847.1 383.2 848.5 382.0 849.5 384.0 850.8 386.3 852.1 388.9 853.5 391.7 854.9 394.4 856.3 397.1 857.5 399.4 858.5 401.4" fill="none" stroke-linejoin="round" stroke-linecap="round" stroke="#ff7a06" stroke-width="2.1"/>
<path d="M794.3 411.1L791.1 412.5 787.2 414.1 782.9 415.9 778.4 417.7 773.9 419.6 769.6 421.4 765.8 423.0 762.6 424.3 760.4 426.1 757.8 428.3 754.8 430.7 751.8 433.2 748.7 435.8 745.7 438.3 743.0 440.6 740.6 442.7 739.3 444.0 737.9 445.2 736.7 446.4 735.5 447.6 734.4 448.7 733.4 449.7 732.5 450.7 731.6 451.5 729.8 451.4 727.5 451.2 724.9 451.0 722.2 450.8 719.7 450.7 717.5 450.7 716.0 451.0 715.3 451.5 715.9 453.0 718.4 455.2 722.1 458.0 726.6 461.1 731.5 464.2 736.2 467.3 740.5 470.0 743.6 472.2 745.3 472.7 747.2 473.3 749.4 474.0 751.7 474.8 754.1 475.5 756.2 476.2 758.2 476.8 759.9 477.4 761.1 479.5 762.6 482.0 764.2 484.9 766.0 487.9 767.7 490.9 769.4 493.7 770.9 496.3 772.1 498.4 775.6 499.0 779.8 499.7 784.5 500.5 789.4 501.4 794.4 502.2 799.2 502.9 803.6 503.5 807.4 503.9 809.4 504.1 811.4 504.3 813.3 504.5 815.0 504.6 816.7 504.6 818.3 504.6 819.9 504.4 821.4 504.0 822.8 503.6 824.2 503.0 825.7 502.4 827.1 501.7 828.3 500.9 829.3 500.0 830.0 499.1 830.3 498.2 829.9 496.6 828.7 494.7 827.0 492.5 824.8 490.3 822.4 488.2 819.9 486.5 817.6 485.2 815.6 484.6 814.1 484.7 812.7 485.3 811.2 486.1 809.7 487.2 808.3 488.4 806.9 489.5 805.7 490.5 804.7 491.2 805.7 491.4 806.9 491.8 808.2 492.2 809.6 492.6 811.1 492.9 812.6 493.0 814.1 493.0 815.6 492.7 818.3 491.4 821.2 489.2 824.2 486.5 827.3 483.3 830.4 479.9 833.6 476.6 836.7 473.5 839.7 470.8 842.3 468.8 845.1 466.7 847.8 464.8 850.6 462.9 853.2 461.1 855.7 459.4 857.9 457.9 859.8 456.5 859.2 453.4 858.7 449.5 858.2 445.1 857.5 440.5 856.7 436.1 855.6 432.1 854.2 428.8 852.4 426.5 850.7 425.5 848.6 424.9 846.2 424.8 843.8 424.8 841.3 425.1 839.0 425.3 836.9 425.5 835.2 425.6 835.5 422.3 836.0 418.3 836.5 413.9 837.0 409.3 837.6 404.6 838.1 400.2 838.5 396.3 838.9 393.0 839.3 392.0 839.9 390.8 840.5 389.5 841.2 388.2 841.8 386.8 842.4 385.5 843.0 384.3 843.4 383.3 844.1 385.5 844.9 388.1 845.7 390.9 846.6 393.9 847.6 397.0 848.4 399.8 849.2 402.4 849.9 404.6" fill="none" stroke-linejoin="round" stroke-linecap="round" stroke="#3204ff" stroke-width="2.1"/>
<path d="M677.0 435.0L678.8 432.2 680.6 429.2 682.4 426.4 684.3 423.6 686.4 421.1 688.5 419.0 690.7 417.1 693.1 415.3 695.4 413.5 697.7 411.7 M805.8 358.3L808.1 359.4 810.4 360.4 812.7 361.5 814.9 362.6 817.1 363.9 819.1 365.3 821.0 366.8 822.8 368.4 824.6 370.0 826.5 371.4 828.4 372.8 830.3 374.2 832.3 375.6 834.1 376.6 835.9 377.1 837.1 377.0 838.2 376.6 839.3 376.0 840.4 375.4 841.6 375.2 843.0 375.3 844.5 375.6 846.1 376.1 847.6 376.6 849.1 377.1 850.8 377.5 852.6 377.9 854.3 378.3 855.7 379.0 856.6 379.9 856.7 381.5 856.1 383.5 855.0 385.7 853.9 388.1 852.9 390.3 852.1 392.5 851.4 394.8 850.6 397.1 849.9 399.3 849.1 401.6 M837.2 478.0L839.4 478.4 841.7 478.8 843.9 479.1 846.2 479.5 848.5 479.9 851.2 480.2 854.0 480.3 856.9 480.5 859.5 481.0 861.7 481.8 863.3 482.8 864.9 484.1 866.2 485.6 867.1 487.1 867.4 488.4 867.0 489.6 866.0 490.7 864.7 491.8 863.2 492.9 861.7 494.1 859.7 495.8 857.5 497.7 855.1 499.5 852.7 501.5 850.4 503.5 848.1 505.7 845.8 507.9 843.5 510.2 841.3 512.5 839.1 514.8 836.9 517.2 834.6 519.7 832.4 522.1 830.5 524.3 828.8 526.1 828.1 526.8 827.5 527.4 827.0 527.9 826.5 528.4 825.9 528.9 M793.9 529.8L794.6 527.2 795.3 524.5 796.1 521.9 796.8 519.3 797.7 516.7 798.7 514.1 799.8 511.5 800.9 508.9 802.1 506.2 803.3 503.5 804.8 500.2 806.3 496.8 807.9 493.3 809.5 489.9 810.9 486.5 812.1 483.4 813.2 480.4 814.3 477.4 815.4 474.4 816.5 471.4 M862.7 437.5L868.3 463.9 M760.0 505.4L762.3 505.1 764.6 504.9 766.9 504.7 769.1 504.3 771.3 503.5 773.7 502.1 775.9 500.3 778.2 498.2 780.4 496.1 782.6 494.1 M673.2 440.5L674.2 438.0 675.2 435.6 676.2 433.1 677.4 430.7 678.8 428.3 681.1 425.2 683.8 421.8 686.7 418.6 689.5 416.2 692.0 415.1 693.3 415.2 694.5 415.7 695.6 416.6 696.7 417.6 697.7 418.8 699.0 420.9 700.1 423.5 701.1 426.5 702.2 429.4 703.3 432.0 704.4 434.0 705.5 435.9 706.7 437.7 707.8 439.6 709.0 441.4 M675.1 441.4L677.4 443.3 679.7 445.2 682.1 447.2 684.3 449.0 686.4 450.9 688.0 452.5 689.4 454.1 690.7 455.7 692.2 457.2 693.9 458.4 696.2 459.5 698.8 460.4 701.5 461.1 704.3 461.6 707.1 462.2 710.1 462.8 713.1 463.3 716.2 463.7 719.2 464.0 722.2 464.1 724.9 463.9 727.5 463.6 730.2 463.1 732.8 462.6 735.4 462.2 M735.4 479.1L736.4 481.8 737.4 484.6 738.4 487.4 739.6 490.0 741.0 492.3 742.6 494.2 744.4 495.8 746.3 497.3 748.3 498.7 750.4 499.8 752.5 500.7 754.8 501.5 757.1 502.0 759.4 502.4 761.7 502.7 764.0 502.7 766.2 502.6 768.5 502.3 770.7 502.0 773.0 501.7 M748.0 364.0L750.4 362.9 752.9 361.8 755.4 360.7 757.8 359.5 760.0 358.0 762.4 355.7 764.7 352.7 766.9 349.8 768.8 347.7 770.0 347.0 770.4 347.6 770.5 348.7 770.5 350.1 770.5 351.6 770.5 353.0" fill="none" stroke-linejoin="round" stroke-linecap="round" stroke="#ff7a06" stroke-width="2.1"/>
<path d="M745.7 362.7L745.1 359.2 744.4 355.6 743.8 352.1 743.5 348.7 743.8 345.7 744.6 343.5 745.7 341.4 747.1 339.5 748.7 337.8 750.4 336.3 752.7 334.8 755.5 333.3 758.3 332.1 760.9 331.5 762.7 331.6 763.4 332.1 763.8 332.9 764.1 333.9 764.4 335.1 764.6 336.3 765.1 339.2 765.4 342.9 765.6 346.9 765.6 350.5 765.5 353.3 765.4 354.2 765.2 354.9 765.0 355.5 764.8 356.2 764.6 357.0 764.3 358.5 764.0 360.3 763.7 362.2 763.3 364.1 763.0 366.0 M669.4 435.0L671.2 431.3 672.9 427.6 674.7 423.8 676.6 420.4 678.8 417.3 681.1 414.7 683.7 412.2 686.4 410.0 689.0 408.5 691.1 407.9 692.2 408.1 693.2 408.7 694.1 409.6 694.9 410.6 695.8 411.7 697.0 413.5 698.1 415.7 699.2 418.2 700.3 420.6 701.4 423.0 M705.2 369.3L707.8 369.6 710.3 369.9 712.9 370.2 715.4 370.5 718.0 371.0 720.7 371.6 723.4 372.4 726.2 373.2 728.9 374.1 731.6 374.9 M700.5 374.9L700.2 377.0 700.0 379.3 699.7 381.4 699.3 383.5 698.6 385.3 697.5 386.6 696.1 387.8 694.6 388.9 693.5 389.9 693.0 391.0 693.3 392.1 694.2 393.1 695.4 394.2 696.6 395.3 697.7 396.6 698.9 398.6 700.0 400.8 701.1 403.2 702.2 405.6 703.3 407.9 M781.3 362.0L784.4 357.2 787.8 351.7 791.0 346.6 793.7 342.9 795.4 341.7 795.8 343.9 795.3 348.7 794.1 355.0 792.7 361.7 791.7 367.7 M803.9 351.7L805.8 352.2 807.7 352.6 809.6 353.0 811.5 353.6 813.3 354.5 815.6 356.4 817.9 358.9 820.2 361.6 822.4 364.0 824.6 365.8 826.1 366.5 827.6 367.0 829.1 367.4 830.6 367.6 832.2 367.7 834.4 367.6 836.7 367.2 839.1 366.8 841.4 366.5 843.5 366.7 845.2 367.3 846.8 368.2 848.3 369.3 849.7 370.4 851.0 371.4 852.0 372.1 852.9 372.8 853.7 373.5 854.4 374.3 854.8 375.2 854.9 376.5 854.6 377.9 854.1 379.4 853.5 381.0 852.9 382.7 851.9 385.2 850.7 387.8 849.4 390.6 848.2 393.3 847.2 395.9 846.6 397.9 845.9 399.8 845.4 401.6 845.2 403.5 845.3 405.3 845.9 407.3 846.8 409.4 848.0 411.4 849.5 413.3 851.0 414.8 852.7 415.8 854.8 416.3 856.9 416.8 858.8 417.4 860.4 418.5 861.6 420.3 862.4 422.5 863.0 424.9 863.5 427.4 864.2 429.8 M803.9 351.7L804.1 353.0 804.2 354.1 804.4 355.4 804.6 356.7 804.8 358.3 805.5 362.2 806.5 367.0 807.6 372.3 808.6 377.6 809.6 382.7 810.4 387.3 811.1 391.8 811.9 396.3 812.6 400.8 813.3 405.3 M835.4 475.2L837.6 475.6 839.9 476.0 842.1 476.3 844.4 476.7 846.7 477.1 849.4 477.4 852.2 477.5 854.9 477.7 857.5 478.2 859.8 479.0 861.6 480.2 863.2 481.6 864.7 483.2 865.8 484.9 866.4 486.5 866.5 487.7 866.3 488.8 865.9 490.0 865.3 491.1 864.6 492.2 863.1 493.7 861.1 495.2 858.8 496.6 856.4 498.1 854.2 499.7 851.9 501.8 849.7 504.0 847.4 506.3 845.2 508.7 842.9 511.0 840.6 513.3 838.3 515.8 835.9 518.2 833.7 520.4 831.6 522.3 830.2 523.6 828.9 524.8 827.6 526.0 826.3 526.7 825.0 527.0 823.3 526.6 821.6 525.5 819.8 524.0 818.1 522.2 816.5 520.4 814.8 517.8 813.3 514.6 811.9 511.2 810.5 508.0 809.0 505.4 807.9 504.0 806.7 502.8 805.6 501.8 804.4 500.8 803.3 499.7 M835.4 475.2L836.5 477.1 837.6 479.1 838.7 481.1 839.8 482.9 841.0 484.6 842.3 485.9 843.9 487.2 845.3 488.4 846.4 489.4 846.7 490.3 846.2 490.9 845.3 491.3 843.9 491.7 842.5 492.0 841.0 492.2 838.7 492.4 836.1 492.5 833.3 492.5 830.5 492.4 827.8 492.2 825.4 492.0 823.1 491.7 820.8 491.3 818.6 490.9 816.5 490.3 814.8 489.7 813.2 489.1 811.7 488.4 810.3 487.6 809.0 486.5 807.7 485.0 806.5 483.1 805.4 481.1 804.4 479.1 803.3 477.1 M783.5 516.7L785.7 516.0 787.9 515.4 790.1 514.7 792.1 513.9 793.9 512.9 795.3 511.7 796.5 510.2 797.5 508.7 798.6 507.0 799.6 505.4 800.8 503.6 801.9 501.7 803.0 499.8 804.1 497.8 805.2 495.9 M865.5 430.0L866.1 433.8 866.8 437.6 867.5 441.4 868.0 445.2 868.3 448.8 868.5 452.3 868.7 456.0 868.8 459.5 868.4 462.3 867.4 463.9 866.0 464.1 864.2 463.5 862.1 462.4 860.0 461.2 858.0 460.1 856.1 459.1 854.2 458.0 852.3 456.8 850.4 455.6 848.5 454.5 M668.5 437.7L669.0 436.2 669.5 434.7 669.9 433.2 670.5 431.7 671.3 430.1 672.7 427.6 674.5 424.9 676.5 422.1 678.6 419.4 680.7 417.0 682.7 414.8 685.0 412.6 687.2 410.5 689.3 409.1 691.1 408.5 692.0 408.6 692.8 409.0 693.5 409.7 694.2 410.4 694.9 411.3 695.9 413.0 696.9 415.2 697.8 417.6 698.7 420.2 699.6 422.6 700.7 425.3 701.9 428.2 703.1 431.1 704.2 433.7 705.2 435.8 705.7 436.8 706.3 437.6 706.8 438.4 707.1 439.0 707.1 439.6 706.3 440.1 704.9 440.3 703.2 440.4 701.3 440.4 699.6 440.5 M668.5 437.7L669.4 438.2 670.3 438.8 671.2 439.3 672.2 439.9 673.2 440.5 674.6 441.3 676.1 442.2 677.6 443.1 679.2 444.1 680.7 445.2 682.6 446.9 684.4 449.0 686.3 451.2 688.2 453.2 690.1 454.6 691.6 455.3 693.0 455.8 694.5 456.1 696.0 456.3 697.7 456.5 700.1 456.7 702.7 456.7 705.4 456.6 708.2 456.5 710.9 456.5 M690.1 455.6L692.3 455.7 694.6 455.8 696.8 455.9 699.1 456.1 701.4 456.5 704.4 457.3 707.5 458.3 710.7 459.4 713.7 460.8 716.5 462.2 718.6 463.6 720.5 465.2 722.2 466.8 724.0 468.4 725.9 469.7 727.9 470.6 730.0 471.1 732.1 471.7 734.0 472.4 735.4 473.5 736.3 475.0 736.7 476.8 737.0 478.8 737.1 480.9 737.2 482.9 737.3 485.1 737.3 487.3 737.3 489.6 737.2 491.9 737.2 494.2" fill="none" stroke-linejoin="round" stroke-linecap="round" stroke="#3204ff" stroke-width="2.1"/>
<g class="lg"><text x="734" y="66.10">1. 1A0H</text><text x="734" y="89.87">2. 1A2C</text><text x="734" y="113.64">3. 1A46</text><text x="734" y="137.41">4. 1A4W</text><text x="734" y="161.18">5. 1A5G</text><text x="734" y="184.95">6. 1A5I</text><text x="734" y="208.72">7. 1 A61</text><text x="734" y="232.49">8. 1A7Y</text><text x="734" y="256.26">9. 1A7Z</text><text x="734" y="280.03">10. 1A85</text></g>
<text class="cap" x="27" y="565.8">1A5G to 1A85 geodesic distance ~ 1.32</text>
<text class="cap" x="599.5" y="565.8">1A5G to 1A61 geodesic distance ~ 0.27</text>
</svg>
</body></html>
